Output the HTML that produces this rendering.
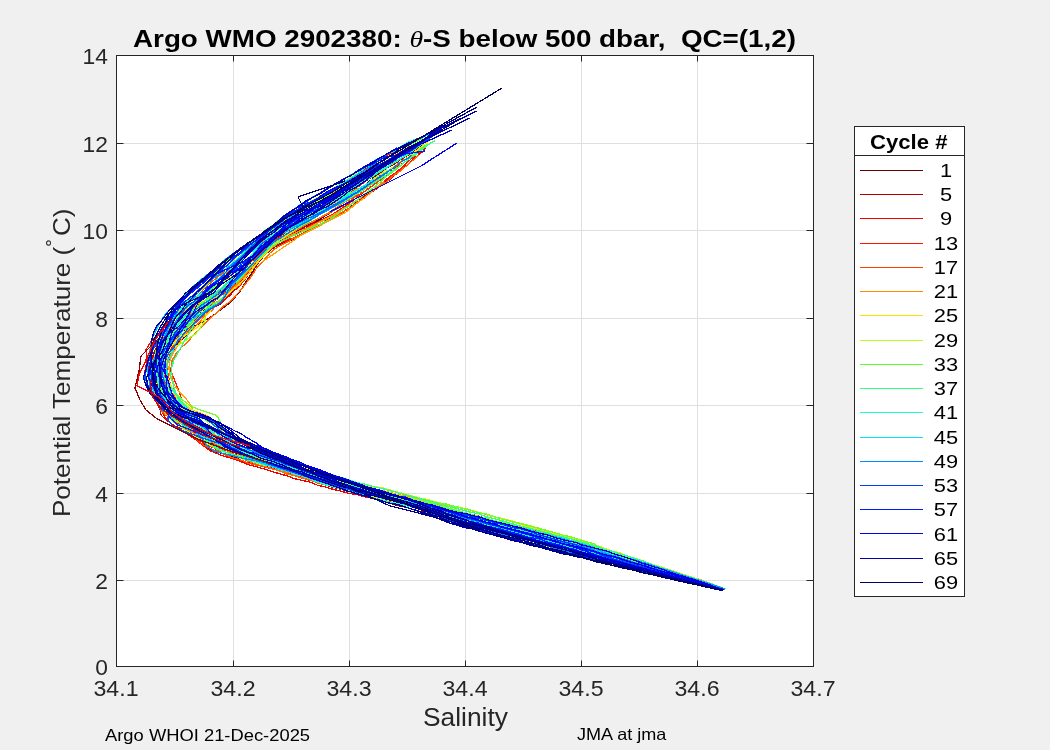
<!DOCTYPE html>
<html><head><meta charset="utf-8"><style>
html,body{margin:0;padding:0;background:#f0f0f0;}
body{width:1050px;height:750px;position:relative;overflow:hidden;font-family:"Liberation Sans",sans-serif;}
svg{position:absolute;left:0;top:0;}
.t{position:absolute;white-space:nowrap;line-height:1;transform-origin:0 0;will-change:transform;}
</style></head><body>
<svg width="1050" height="750" viewBox="0 0 1050 750">
<rect x="116.5" y="55.5" width="697" height="611" fill="#fff"/>
<g stroke="#dfdfdf" stroke-width="1" fill="none">
<line x1="233.5" y1="55.5" x2="233.5" y2="666.5"/>
<line x1="349.5" y1="55.5" x2="349.5" y2="666.5"/>
<line x1="465.5" y1="55.5" x2="465.5" y2="666.5"/>
<line x1="581.5" y1="55.5" x2="581.5" y2="666.5"/>
<line x1="697.5" y1="55.5" x2="697.5" y2="666.5"/>
<line x1="116.5" y1="580.5" x2="813.5" y2="580.5"/>
<line x1="116.5" y1="493.5" x2="813.5" y2="493.5"/>
<line x1="116.5" y1="405.5" x2="813.5" y2="405.5"/>
<line x1="116.5" y1="318.5" x2="813.5" y2="318.5"/>
<line x1="116.5" y1="230.5" x2="813.5" y2="230.5"/>
<line x1="116.5" y1="143.5" x2="813.5" y2="143.5"/>
</g>
<g fill="none" stroke-width="1.3" stroke-linejoin="round" stroke-linecap="round" shape-rendering="crispEdges">
<polyline points="419.2,144.0 415.0,144.8 408.0,150.0 400.0,156.3 393.9,161.0 387.5,166.7 379.7,173.8 372.1,179.2 364.5,185.5 356.6,191.4 350.5,197.7 342.6,203.6 335.3,209.3 327.7,214.4 320.2,219.0 313.1,222.8 305.8,226.2 299.7,229.7 292.6,233.4 286.0,236.7 280.5,239.6 275.2,242.3 269.2,246.9 262.8,253.4 256.6,261.0 249.8,269.1 244.3,277.4 238.8,284.1 233.7,289.9 228.9,295.4 225.2,298.9 222.2,302.9 216.1,306.3 210.4,309.2 204.6,313.3 198.2,317.9 190.6,323.5 185.6,329.8 182.3,335.0 178.8,340.3 175.9,346.0 170.6,352.1 164.3,359.6 161.5,368.3 161.3,376.8 162.4,384.4 165.8,392.5 169.7,400.8 174.2,408.1 180.3,412.6 187.3,415.9 196.1,420.7 204.4,426.2 210.0,430.8 215.6,435.8 222.0,440.6 227.4,444.6 233.0,447.4 241.2,451.3 247.2,453.6 253.8,456.6 261.1,459.4 269.7,461.8 280.0,465.6 286.3,467.3 293.6,470.1 300.9,471.8 308.9,474.9 316.9,477.4 324.7,480.1 333.5,482.8 341.5,485.3 348.7,487.5 356.8,489.4 365.9,492.0 373.3,493.9 381.9,495.5 390.1,497.7 398.3,499.1 405.4,501.3 412.4,503.6 421.1,504.9 427.3,506.5 433.3,507.8 439.8,509.1 447.1,511.1 456.0,512.4 466.0,514.9 472.0,516.7 478.6,517.7 485.9,519.9 494.9,522.1 503.0,523.4 511.7,525.3 520.2,528.2 529.6,530.0 538.3,532.5 547.4,534.0 555.0,536.0 563.1,538.5 569.6,540.5 575.8,541.0 580.4,542.6 593.9,546.3 596.9,548.2 607.0,551.7 613.0,553.3 619.0,555.4 626.8,558.2 634.8,559.9 643.6,563.2 652.4,566.1 661.4,569.1 669.9,571.5 678.3,574.1 686.0,576.7 692.5,579.0 698.1,580.7 712.6,585.3 719.7,587.9 723.9,589.4" stroke="#660000"/>
<polyline points="355.7,202.8 349.7,207.9 342.4,212.2 335.3,216.8 327.3,220.6 320.0,224.9 312.9,228.6 306.2,232.6 300.2,235.7 292.5,239.5 286.2,241.9 281.1,243.5 275.2,246.5 269.8,250.5 263.3,256.4 256.9,264.9 250.9,274.5 245.2,282.7 240.5,290.5 235.3,297.0 231.6,300.6 228.3,304.0 225.2,306.3 220.6,309.7 216.3,313.2 211.8,316.4 203.9,321.0 194.9,326.0 190.3,331.7 185.1,336.4 180.0,341.2 176.7,345.6 170.7,352.6 165.3,359.7 162.0,367.7 161.4,376.9 161.6,384.9 162.8,393.2 164.4,401.4 166.2,408.9 171.2,413.8 177.4,417.6 186.5,422.3 192.2,429.9 196.4,434.9 201.2,440.3 206.3,446.0 212.2,450.8 222.5,453.6 233.9,457.5 242.7,458.7 251.1,460.8 260.1,462.2 269.0,464.1 279.9,467.5 287.0,469.0 293.6,472.1 301.9,474.3 309.3,477.6 317.2,480.4 325.4,483.5 333.1,486.4 341.7,489.3 349.2,491.7 357.4,494.8 365.6,496.7 374.2,498.9 381.6,500.9 389.9,503.1 397.8,505.6 405.8,507.3 412.9,509.3 420.9,511.6 427.0,512.9 433.7,514.5 439.6,516.7 446.7,518.4 455.3,520.4 466.4,523.2 472.1,524.7 479.0,526.3 486.6,527.8 494.6,529.4 502.7,531.4 511.5,533.2 520.5,535.8 529.8,537.5 538.5,539.8 547.8,541.2 555.2,543.2 563.1,545.3 569.8,547.1 576.0,547.6 580.7,549.7 593.5,553.1 597.2,553.3 606.9,556.7 613.0,558.3 619.4,559.6 626.7,562.0 634.8,564.5 643.6,566.8 653.0,569.4 661.9,571.9 670.1,574.3 678.3,577.2 685.9,578.7 692.8,580.8 697.9,582.5 711.9,586.8 718.9,588.6 722.7,589.9" stroke="#780000"/>
<polyline points="423.0,141.1 422.0,141.5 415.3,146.4 407.7,150.7 400.2,155.7 393.4,160.4 387.2,164.4 379.5,169.2 372.7,173.8 364.7,179.3 356.9,183.8 350.3,188.3 342.7,192.5 335.3,197.1 327.5,202.1 320.0,206.9 313.2,211.3 306.5,215.5 299.4,220.0 292.7,224.9 285.7,230.0 279.9,233.8 274.2,239.2 268.2,242.9 262.1,249.8 255.2,256.9 249.2,264.1 243.2,270.8 238.0,276.2 231.5,282.3 225.5,286.2 219.7,290.9 214.6,294.8 207.5,299.1 200.6,302.9 193.9,307.4 186.7,312.5 179.0,318.4 172.7,324.1 166.8,330.0 161.7,335.1 157.0,340.7 151.1,350.7 150.7,359.9 152.7,368.3 155.8,377.0 157.8,385.4 159.1,393.1 161.0,401.0 163.4,409.5 169.2,414.2 175.5,418.3 185.1,422.3 194.4,428.8 201.0,433.5 206.8,439.0 213.2,443.5 220.5,447.3 228.6,449.7 238.2,453.1 245.9,454.9 252.7,456.7 261.2,458.6 269.9,461.3 280.0,464.1 286.3,466.6 293.3,468.5 300.1,471.3 308.6,474.0 317.0,476.4 325.0,478.9 334.0,482.3 341.6,484.9 349.4,487.1 357.6,490.0 365.1,491.5 373.6,493.6 381.2,495.3 390.2,497.3 398.0,499.4 405.5,501.1 412.8,503.0 420.7,504.9 427.2,507.0 433.2,509.2 439.4,510.3 446.6,512.5 455.1,514.9 466.0,516.8 471.8,518.3 479.1,520.3 486.5,521.7 494.5,523.1 503.4,526.1 511.8,528.2 520.4,530.7 529.6,532.2 539.1,534.2 547.2,536.4 555.0,538.6 562.6,541.0 570.1,542.1 576.6,543.8 581.0,545.2 593.6,549.3 596.6,549.9 607.4,553.4 612.5,555.0 619.1,557.4 626.1,559.7 634.8,562.5 644.1,565.0 652.7,567.8 661.7,570.0 669.8,572.8 678.1,575.4 685.9,577.6 692.6,580.0 698.0,581.5 712.3,585.9 719.3,588.2 723.4,589.6" stroke="#8b0000"/>
<polyline points="423.8,144.0 422.0,144.9 415.6,150.0 408.1,155.0 399.6,160.3 394.0,164.2 386.3,168.3 379.5,173.2 372.5,177.0 364.4,181.6 357.3,185.6 350.3,189.8 342.8,193.7 335.3,197.6 327.7,201.9 320.3,206.2 312.6,210.1 305.9,213.9 300.0,218.8 292.5,223.6 285.2,227.8 279.4,232.0 274.3,236.2 268.3,241.1 261.7,247.0 255.2,253.2 248.1,259.3 242.4,265.7 236.0,270.4 229.8,276.3 223.0,280.7 216.3,285.4 209.7,290.0 203.5,296.7 198.0,301.2 193.8,307.3 188.1,313.2 182.4,319.7 175.7,325.4 170.2,331.1 164.9,337.1 160.6,342.1 154.8,351.0 151.5,359.7 151.2,368.5 152.6,376.4 154.7,385.6 157.0,393.2 161.0,401.5 166.2,408.8 171.9,412.9 179.9,417.4 189.8,422.1 197.3,428.0 201.8,432.9 205.5,439.0 211.6,444.2 217.1,448.2 225.1,452.2 235.3,456.2 242.0,458.7 250.7,461.0 259.1,462.9 269.3,465.9 279.9,469.4 286.9,471.3 293.7,473.9 301.0,475.9 309.3,478.1 317.0,481.4 325.4,483.4 334.0,486.3 341.4,489.2 348.5,490.8 357.0,493.6 365.3,496.0 373.9,497.3 382.2,499.1 389.7,500.8 397.8,502.6 405.5,504.5 412.9,506.5 421.0,509.2 427.6,510.4 433.0,512.5 439.9,514.3 446.5,516.0 455.2,518.3 466.3,520.6 471.9,522.5 479.0,523.8 486.6,525.5 494.9,527.1 502.9,529.3 510.9,531.1 520.6,533.4 529.8,535.2 538.1,537.5 546.9,539.8 555.2,541.6 562.9,543.7 569.8,545.7 576.2,547.2 581.5,548.5 593.6,553.0 596.5,554.5 607.1,557.9 612.6,559.6 619.5,561.4 626.2,563.5 635.2,566.1 643.8,568.3 652.4,571.0 661.4,572.9 669.7,575.8 678.4,577.3 686.1,579.9 692.3,581.7 698.0,583.1 712.2,586.9 718.8,588.8 722.6,589.9" stroke="#9d0000"/>
<polyline points="411.7,161.0 408.4,164.0 399.6,170.5 393.6,175.0 387.0,179.8 379.8,185.0 372.3,190.2 364.9,195.6 357.1,200.6 349.9,205.4 342.4,209.6 335.0,213.4 327.3,217.3 320.1,220.8 312.9,223.1 305.9,226.6 300.3,228.6 292.5,231.5 286.4,234.1 280.3,236.1 274.3,238.9 268.7,242.3 261.8,246.7 254.9,253.6 248.9,262.0 243.6,269.2 237.6,276.1 231.2,282.5 226.1,288.8 221.3,293.8 218.3,298.4 211.9,302.8 207.0,307.1 201.5,311.4 193.8,316.0 187.2,321.8 180.5,327.3 175.1,333.0 168.7,338.0 164.2,343.0 158.1,351.4 155.3,359.8 154.2,368.6 154.7,377.2 158.7,385.2 164.9,393.4 171.6,400.7 178.1,408.2 178.6,412.7 179.2,417.5 182.4,423.3 190.1,430.0 196.5,434.7 202.6,440.0 209.6,444.8 216.4,449.4 225.6,451.9 236.0,455.3 244.0,457.1 251.6,458.9 260.8,461.2 269.4,463.5 280.3,466.4 286.5,468.3 293.5,470.8 301.6,473.3 308.9,475.6 317.1,478.4 325.1,481.5 333.5,484.3 341.5,486.3 349.2,488.9 357.7,490.8 365.5,493.4 374.3,495.6 381.6,497.2 390.2,498.9 397.7,501.3 405.4,503.4 413.2,505.3 420.2,507.7 427.4,509.0 433.1,510.7 439.9,512.8 446.8,515.2 455.6,517.4 465.9,520.2 472.3,521.4 478.9,522.8 486.8,524.9 494.8,527.3 503.2,529.4 511.6,531.4 520.5,533.4 529.4,536.3 538.5,538.1 546.8,540.5 555.1,542.0 562.6,543.6 569.1,545.8 575.5,547.3 581.6,548.6 594.4,552.7 596.5,554.2 607.3,557.6 612.3,558.7 619.4,561.4 627.2,563.0 634.9,565.4 643.9,567.8 652.7,570.1 660.9,572.3 670.2,574.6 678.8,577.0 686.0,579.4 692.7,580.8 698.0,582.8 712.2,586.6 718.9,588.5 723.2,589.7" stroke="#b00000"/>
<polyline points="419.8,143.0 415.4,145.7 407.8,150.2 400.3,154.9 394.0,158.8 386.8,164.0 379.7,168.2 372.3,173.0 364.5,177.6 357.3,182.6 350.1,187.0 342.8,192.0 335.0,196.6 327.4,200.4 320.0,205.2 312.5,210.2 306.1,215.2 300.4,220.0 292.3,225.6 286.1,230.9 280.3,235.8 275.1,240.2 269.1,246.1 262.8,253.0 256.5,260.6 250.1,267.7 244.1,274.7 238.0,281.1 232.5,285.9 227.0,290.7 222.5,294.4 217.0,297.6 210.1,301.7 203.8,305.4 197.3,309.6 189.7,314.3 182.1,319.7 176.1,325.3 169.7,330.9 164.7,336.2 160.2,341.9 154.4,351.0 152.2,359.7 152.7,369.3 154.1,377.5 156.0,386.2 158.1,393.5 160.6,401.8 164.2,409.0 169.1,414.2 175.1,418.3 184.6,423.5 196.3,428.0 204.9,432.9 213.1,436.4 221.9,441.1 229.0,444.1 234.4,447.0 241.1,451.3 247.1,454.2 253.6,457.0 260.8,459.0 269.6,462.2 280.0,465.9 286.7,468.5 294.0,470.2 300.7,472.5 309.0,475.0 317.2,477.8 325.4,479.9 333.7,482.3 340.7,484.8 349.3,487.0 356.8,489.0 365.9,491.2 373.7,492.7 381.9,494.8 390.4,496.9 398.0,498.1 405.5,500.8 413.4,503.0 420.3,505.7 427.0,506.7 433.1,508.3 439.4,510.4 446.5,512.5 455.1,515.4 465.7,517.8 472.1,519.7 479.0,521.3 486.3,523.3 494.1,525.5 502.9,527.9 511.4,530.3 520.9,532.5 529.4,534.5 538.6,536.6 547.3,538.3 554.5,540.9 562.3,542.8 569.4,544.0 575.8,545.9 581.2,546.8 593.7,550.5 596.5,551.0 606.7,555.2 612.9,556.0 619.0,558.0 626.3,560.0 635.1,562.5 643.3,564.9 652.4,567.8 661.6,570.2 670.5,572.6 678.5,575.2 685.8,577.2 692.6,579.5 697.8,580.9 712.6,585.3 719.8,587.8 724.4,589.2" stroke="#c10000"/>
<polyline points="384.1,172.7 379.7,175.8 372.6,180.9 365.0,185.6 357.4,190.6 350.4,195.5 343.1,199.8 334.9,204.6 327.6,208.3 320.1,212.7 313.4,217.1 306.4,221.2 300.4,225.0 292.7,229.5 285.8,233.3 280.0,236.6 274.7,240.5 268.8,246.1 262.5,252.3 255.9,259.7 249.2,267.6 243.8,276.3 239.3,282.1 233.1,288.9 229.2,294.4 224.8,298.5 221.4,301.8 215.5,305.7 209.8,308.3 203.7,312.0 196.4,317.1 189.0,323.1 179.8,327.8 172.5,332.2 165.4,336.6 158.7,341.8 151.9,350.6 148.8,360.2 149.1,369.1 150.4,377.6 151.6,385.4 153.9,393.9 156.3,402.0 160.0,409.6 161.0,415.1 165.4,419.3 174.3,425.8 187.7,430.7 197.4,434.9 206.9,439.1 217.1,442.5 226.4,445.0 230.4,449.4 236.6,454.2 243.6,457.3 251.1,460.3 259.4,463.8 269.1,466.7 279.8,471.0 287.2,473.3 294.1,475.5 301.1,477.3 309.4,480.2 317.8,482.3 325.1,484.7 333.1,487.5 341.3,489.3 349.5,491.4 356.9,493.5 365.4,494.8 373.6,496.6 382.1,498.4 389.9,500.7 397.8,501.9 405.6,503.8 413.0,506.0 420.8,508.3 426.8,510.4 432.6,512.6 439.7,515.5 446.7,517.7 454.7,520.3 466.1,523.4 471.9,524.8 478.9,526.3 486.4,528.8 494.1,530.4 503.1,533.1 511.5,534.5 520.1,537.2 529.5,539.4 538.4,540.8 547.2,543.5 554.7,544.8 562.4,546.5 570.1,548.5 575.4,550.2 581.1,550.8 593.6,553.4 596.7,554.8 606.7,556.3 612.7,558.0 618.9,560.4 626.6,561.5 634.9,564.2 643.8,566.8 652.6,569.1 661.7,571.7 670.0,574.4 678.6,576.5 685.8,578.7 692.4,580.6 698.1,582.3 711.9,586.6 719.1,588.5 723.0,589.8" stroke="#d10000"/>
<polyline points="426.0,145.0 424.2,150.4 422.6,151.7 415.7,157.0 408.6,163.8 400.1,170.7 393.6,176.2 387.2,181.7 379.3,186.8 371.6,192.2 364.5,197.3 357.5,202.7 350.3,207.2 342.4,212.1 334.4,216.0 327.5,220.0 320.1,224.3 313.0,228.2 306.5,231.5 300.3,234.9 293.1,238.8 286.0,241.2 280.8,243.1 275.4,246.1 269.5,250.1 262.9,255.5 256.9,263.8 250.5,271.6 244.7,279.6 239.0,286.6 233.8,291.1 229.4,295.9 225.5,299.0 221.6,302.7 216.1,306.1 211.2,309.8 205.6,314.5 199.0,319.0 191.7,323.4 187.5,329.6 182.8,335.7 179.5,341.0 177.1,345.8 172.4,352.4 164.9,360.2 161.9,368.6 159.1,377.1 159.8,385.2 162.0,393.5 163.7,401.6 167.0,409.2 170.6,413.3 175.0,418.5 183.0,423.6 195.5,428.9 204.9,432.2 214.3,436.8 223.0,440.3 231.5,442.4 235.5,446.3 241.6,450.2 246.9,453.3 253.3,456.6 261.0,460.3 269.1,463.3 279.9,467.0 286.3,469.3 293.8,471.7 301.5,473.8 309.4,476.5 317.5,479.1 325.5,481.6 333.3,483.1 341.0,486.2 349.0,488.0 357.7,490.5 366.1,492.0 373.7,494.4 382.3,496.5 390.2,498.3 398.3,499.7 406.0,501.7 413.2,503.3 420.4,505.4 427.3,507.2 432.7,509.2 440.3,511.1 446.4,512.9 455.4,515.6 466.1,518.6 472.3,519.3 479.3,521.1 486.8,523.3 494.0,524.6 503.0,527.4 512.2,529.7 521.2,532.0 529.7,533.7 538.9,536.5 547.3,538.1 555.4,539.8 562.9,542.2 569.7,543.1 576.4,545.2 580.7,546.7 593.6,550.1 597.0,552.0 607.0,555.0 612.6,557.1 619.5,558.9 626.2,561.3 635.0,564.0 643.8,566.1 652.6,568.7 661.6,572.1 669.9,573.7 678.1,576.4 685.9,578.6 692.2,580.6 698.1,582.3 712.2,586.2 719.1,588.5 723.0,589.7" stroke="#e20000"/>
<polyline points="360.6,179.6 356.9,181.1 349.9,185.2 342.8,188.4 335.5,192.1 327.7,196.2 319.3,201.3 312.9,207.5 306.1,213.1 299.9,218.2 292.6,226.3 285.8,231.0 280.4,236.3 275.1,242.0 269.8,248.1 263.4,256.2 256.9,263.4 250.0,270.7 244.0,277.6 238.5,283.0 232.6,287.1 226.9,290.5 222.0,293.2 216.0,296.7 209.5,300.7 202.6,304.9 197.3,309.4 189.5,313.7 182.0,319.4 174.8,325.7 168.8,330.3 162.8,336.4 157.9,341.6 151.2,350.4 147.0,360.1 145.4,369.5 143.5,377.8 146.1,385.8 151.0,393.8 156.3,402.4 162.1,409.0 163.6,415.2 166.4,419.4 172.9,425.5 184.1,432.1 190.8,436.5 199.7,440.6 207.7,445.3 216.0,448.8 223.0,453.7 232.8,458.8 239.7,461.1 248.1,464.6 258.1,467.2 268.6,470.3 279.8,473.9 286.8,475.7 294.2,478.6 301.2,480.2 309.6,481.9 317.7,485.3 325.2,486.9 333.2,489.4 341.6,491.3 348.9,493.4 357.6,494.8 365.1,496.8 374.1,498.5 382.5,500.1 389.9,501.8 397.5,503.1 405.4,504.9 413.5,507.2 420.7,508.7 427.5,511.0 433.2,512.0 439.6,514.1 446.5,516.0 455.6,518.1 466.0,520.5 471.8,521.7 479.1,523.6 486.3,525.2 494.7,527.3 503.1,529.1 512.0,530.9 520.3,533.8 529.8,535.6 538.1,537.6 547.4,540.4 555.2,542.5 562.8,543.9 569.3,545.7 575.6,548.2 580.9,549.9 594.2,554.2 596.5,555.9 607.2,559.4 612.8,561.7 619.3,562.9 626.8,565.2 635.4,567.4 643.6,569.8 652.5,572.2 661.6,574.7 669.9,576.5 678.5,578.5 685.7,580.3 692.6,582.0 697.7,583.4 712.0,587.2 718.6,588.9 722.6,589.9" stroke="#f20000"/>
<polyline points="364.2,194.7 357.5,200.0 350.2,205.0 341.9,209.3 335.3,213.6 327.6,217.4 320.2,221.7 312.9,225.3 306.6,228.4 299.9,231.5 293.1,235.4 286.4,238.0 280.8,240.4 274.9,244.2 269.4,248.3 262.9,254.3 256.9,261.5 250.2,269.0 243.7,275.4 238.4,282.6 232.5,287.2 227.4,291.6 222.2,294.3 217.0,298.8 212.7,302.7 208.1,307.5 203.5,312.3 197.2,318.2 190.6,323.6 183.6,328.6 177.1,333.9 171.7,338.6 166.0,343.7 159.3,351.5 153.3,360.2 150.7,369.1 149.5,377.3 151.4,385.5 154.9,393.6 159.3,401.9 164.5,409.1 166.8,414.3 171.0,418.4 178.5,424.2 186.8,431.0 191.7,436.3 197.1,440.9 204.1,446.4 210.9,451.1 220.8,455.0 232.6,458.8 240.2,461.2 249.4,462.9 258.4,465.3 269.0,468.1 280.1,471.0 287.1,472.5 294.1,473.9 301.2,476.3 309.2,478.3 317.4,480.2 325.8,482.9 333.7,484.4 341.1,486.4 348.7,488.8 357.4,490.9 365.4,492.6 373.6,494.1 382.3,495.2 389.9,497.3 398.1,498.3 405.1,500.2 413.1,503.0 420.7,505.4 427.3,507.3 433.6,508.8 439.1,511.2 446.7,513.3 455.8,517.1 466.5,519.3 472.2,521.6 479.3,523.5 486.5,525.2 494.8,528.3 503.1,529.5 511.6,532.1 520.8,534.8 529.8,537.4 538.5,539.8 546.6,542.0 555.0,543.4 563.0,545.8 570.0,547.8 575.7,549.2 580.6,550.3 593.8,553.9 596.4,555.6 606.5,558.5 613.0,560.7 619.3,562.0 627.2,564.2 635.0,566.5 643.4,568.1 652.1,570.4 661.2,572.9 670.3,575.1 678.2,577.4 685.7,579.5 692.6,581.2 698.1,582.5 712.3,586.3 719.4,588.2 723.8,589.4" stroke="#f50500"/>
<polyline points="436.2,130.0 429.8,133.2 422.4,137.1 415.9,139.1 408.5,142.8 399.7,147.9 393.7,151.8 386.7,155.3 380.0,159.4 372.2,163.6 365.0,169.2 357.7,173.4 349.7,178.4 342.6,182.4 335.8,187.2 328.0,192.2 320.3,196.3 312.8,200.4 306.3,204.8 300.1,208.3 292.0,214.4 284.9,219.6 279.4,223.6 272.4,229.4 266.8,233.6 259.9,238.7 253.9,244.2 248.0,250.4 241.3,256.9 235.8,263.1 228.3,271.0 221.3,277.5 215.3,284.3 209.4,289.6 203.1,295.9 197.6,300.8 191.5,306.0 187.1,312.5 180.8,319.1 172.4,324.0 165.4,329.7 157.8,334.7 151.7,340.5 145.8,349.9 147.4,359.8 151.0,369.0 156.9,376.7 159.0,385.0 160.6,393.4 161.4,401.0 165.5,409.1 172.4,413.2 180.5,416.4 191.6,421.7 200.9,427.3 206.7,431.9 213.8,436.7 220.4,441.3 227.2,444.1 232.8,448.0 241.3,451.7 247.2,453.3 253.9,455.6 261.4,458.0 269.5,461.4 279.7,464.5 286.7,466.3 293.8,468.3 300.7,471.3 309.2,473.7 316.7,476.8 325.5,479.0 333.7,482.6 341.6,484.8 349.4,486.6 357.5,489.0 365.7,491.5 373.8,493.2 381.7,495.1 389.7,497.4 398.2,499.7 405.7,501.2 412.7,503.3 420.9,504.9 426.8,507.2 433.1,509.0 439.6,510.1 446.5,511.9 455.2,514.5 465.9,516.7 472.4,518.3 479.4,520.0 486.3,522.0 494.5,523.8 503.2,526.2 512.3,527.9 520.8,529.8 529.4,532.2 538.5,534.1 547.1,536.5 555.4,538.4 563.0,540.7 569.4,542.6 575.7,543.7 580.6,545.8 593.8,550.1 597.3,551.5 606.9,554.9 612.6,556.8 618.8,559.1 626.9,561.5 634.5,564.2 643.9,566.2 652.8,568.5 661.5,571.3 670.1,573.8 678.2,575.9 685.9,577.8 692.3,579.7 698.2,581.5 712.3,585.6 719.6,588.0 724.2,589.3" stroke="#f90a00"/>
<polyline points="408.0,146.5 401.6,163.0 399.8,163.6 393.9,169.5 386.9,174.8 379.9,179.9 372.0,186.1 364.4,191.5 356.9,197.6 349.7,202.9 342.8,207.8 335.0,212.8 327.1,217.7 319.5,221.5 312.8,224.5 306.3,227.9 299.9,230.8 292.0,234.4 286.1,237.1 280.5,239.8 274.7,242.5 269.1,246.9 262.4,252.7 255.8,259.4 249.8,266.9 243.7,273.9 237.9,279.7 232.2,285.4 226.7,289.4 222.1,293.4 217.1,298.0 212.9,302.9 208.3,307.9 204.1,312.5 199.1,318.4 193.5,324.8 187.1,329.8 180.9,334.8 175.1,339.1 170.1,344.5 163.4,352.2 158.2,360.3 155.6,368.7 154.5,377.3 154.5,385.7 156.7,393.1 157.8,402.0 161.6,409.3 169.5,413.7 179.4,416.7 192.7,421.5 200.8,426.7 206.1,431.6 212.2,436.7 218.0,441.8 223.2,445.9 231.3,449.4 239.4,452.4 246.2,455.0 253.2,457.3 261.0,459.3 269.9,461.8 280.1,465.0 287.1,466.5 294.0,469.6 301.1,472.2 309.3,474.2 316.7,477.8 325.6,479.9 334.3,482.2 341.3,485.1 349.1,486.9 357.2,489.4 365.3,491.9 373.6,493.3 381.9,495.1 390.6,497.2 398.2,499.0 406.5,501.3 413.3,502.8 420.8,504.5 427.1,506.7 432.9,507.9 440.0,510.0 446.7,511.8 455.4,514.1 465.9,515.8 471.9,518.2 478.6,519.3 486.6,520.9 494.7,523.0 503.2,525.1 512.2,527.2 520.1,530.2 530.1,531.7 538.4,533.6 547.6,535.5 555.4,538.0 562.5,540.1 569.3,541.4 575.8,542.7 580.5,543.8 594.1,546.5 596.9,548.0 607.3,550.3 612.9,552.0 619.4,553.8 626.5,556.1 635.3,559.5 643.2,561.9 652.6,565.2 661.3,568.1 670.1,570.8 677.9,573.4 685.9,576.2 692.6,578.4 698.0,580.1 712.7,585.0 719.8,587.8 724.1,589.3" stroke="#fc0f00"/>
<polyline points="428.1,144.2 422.6,149.5 415.7,154.9 408.4,161.4 400.0,169.1 393.7,174.0 386.4,179.1 379.1,185.5 371.9,191.3 365.2,196.8 357.2,202.2 350.2,207.4 343.0,212.1 335.5,215.9 327.2,220.8 320.1,224.5 312.6,228.2 305.7,232.1 299.7,235.1 292.3,238.3 286.5,239.9 280.6,241.6 275.4,245.0 269.8,248.6 262.5,253.8 256.4,260.6 249.4,268.3 243.6,274.1 238.8,279.0 232.1,284.4 226.0,287.9 220.0,291.6 214.4,295.7 209.4,299.8 203.9,305.0 198.7,310.0 193.0,315.9 187.2,322.4 183.3,328.6 179.5,334.1 176.1,340.1 172.8,345.1 169.5,352.4 169.1,360.0 169.7,367.9 173.3,376.9 176.2,384.0 179.3,392.1 181.9,400.0 185.2,407.1 188.0,411.0 189.4,415.4 194.6,420.6 200.7,427.3 206.0,431.4 212.4,437.1 218.3,441.8 223.7,445.3 232.3,449.2 241.2,452.1 247.1,453.5 253.4,455.3 261.9,457.5 270.9,459.7 280.1,462.8 286.2,464.5 293.2,466.4 301.0,469.2 308.4,471.3 316.9,474.1 325.1,476.7 333.6,479.7 341.1,482.2 349.2,483.8 357.5,485.9 365.7,488.1 374.2,490.0 382.0,492.3 390.3,493.5 398.4,495.7 405.4,497.7 412.5,499.0 420.4,501.1 427.6,503.2 433.2,504.8 439.8,506.6 446.5,508.6 455.6,511.1 466.1,513.3 471.9,514.5 478.9,516.2 486.4,519.0 494.9,521.2 502.6,523.2 511.9,525.3 521.0,527.7 529.7,529.7 539.1,532.1 547.3,534.2 554.9,536.6 562.6,538.7 569.7,540.4 576.2,541.4 581.2,542.5 593.7,546.6 596.4,548.0 606.9,551.1 613.0,553.1 619.1,555.1 626.9,557.7 634.8,560.8 643.9,563.0 652.0,565.8 661.3,568.5 669.8,571.6 678.5,573.9 685.5,576.1 692.4,578.3 698.0,580.4 712.7,585.1 719.9,587.7 724.3,589.3" stroke="#ff1400"/>
<polyline points="418.5,144.1 416.1,145.3 408.4,149.1 400.2,155.2 393.9,159.5 386.8,164.3 379.2,170.1 371.9,175.9 364.8,181.9 357.4,187.3 350.1,193.0 342.6,198.7 335.5,203.1 327.0,208.2 320.1,212.5 313.1,216.6 305.9,219.5 300.2,223.1 292.1,227.2 285.8,230.1 280.1,233.9 274.3,237.5 268.1,241.9 261.5,247.0 255.4,254.0 249.3,261.2 242.9,269.2 237.6,275.7 231.8,283.2 226.1,289.5 221.8,294.5 217.6,298.7 211.8,303.0 206.3,306.2 200.3,310.7 193.8,316.0 186.7,321.9 182.4,327.5 178.2,333.8 174.4,339.1 170.8,344.8 166.8,352.1 163.7,360.3 163.4,368.7 164.2,376.1 166.8,384.8 169.7,392.4 173.3,400.3 177.9,407.8 183.2,412.1 188.8,415.2 196.6,420.5 201.8,426.8 205.2,432.4 209.5,438.1 214.3,443.9 219.3,447.8 227.8,451.1 239.0,452.7 245.9,455.1 253.2,456.6 261.1,458.6 270.2,460.2 280.0,462.8 286.5,464.5 293.5,467.0 300.5,470.0 308.7,472.4 316.9,474.6 325.3,477.5 333.6,480.7 341.7,482.7 348.7,485.6 357.3,487.6 365.1,489.4 373.8,491.4 382.1,493.6 390.0,495.3 398.1,497.9 405.6,499.2 412.5,500.9 420.5,502.9 427.0,505.2 433.0,505.8 439.9,508.0 447.2,509.7 455.3,511.8 466.2,514.8 471.7,515.5 478.8,517.0 487.3,519.3 494.8,521.5 502.8,523.4 512.1,525.3 521.3,527.9 530.1,530.0 538.2,531.6 547.2,534.3 555.3,535.7 563.4,537.8 569.4,540.0 575.6,541.6 581.2,542.2 593.3,545.8 597.0,546.4 607.2,549.9 612.4,551.8 619.2,553.9 625.8,555.7 635.1,559.0 644.0,561.8 652.7,564.6 661.2,567.3 670.1,570.2 678.1,573.3 685.7,575.5 692.3,577.7 698.0,579.3 712.9,584.5 720.3,587.3 724.9,589.0" stroke="#ff1f00"/>
<polyline points="407.0,148.3 399.3,152.8 392.9,157.0 386.3,161.5 379.5,166.4 372.3,171.6 365.1,176.4 357.2,181.7 349.6,186.7 343.0,191.6 335.4,196.3 327.5,200.8 320.1,205.8 313.0,210.8 306.2,215.6 300.1,219.5 292.3,225.6 285.8,230.0 280.0,234.8 274.0,239.7 268.6,244.4 262.8,251.2 255.9,256.9 249.5,263.4 242.8,268.5 237.0,273.9 230.5,277.8 223.2,282.0 217.1,286.6 210.3,291.0 204.1,297.3 200.0,302.1 194.8,308.3 190.3,314.0 184.4,321.3 181.1,327.8 178.2,334.3 175.0,339.6 173.9,345.3 170.3,352.4 167.0,359.6 165.5,368.2 165.1,376.2 166.1,384.9 168.0,392.7 169.3,400.8 172.2,408.1 178.3,412.4 185.4,416.2 194.8,420.9 203.8,426.2 209.9,431.3 216.0,436.2 222.9,440.5 228.8,443.9 234.2,446.7 242.0,450.4 248.2,452.9 254.5,455.0 261.5,457.6 269.8,461.2 280.2,463.9 286.5,465.9 293.4,468.6 300.9,470.6 309.2,473.2 317.3,476.1 325.4,478.0 333.5,480.6 341.5,483.2 349.1,485.3 357.5,487.5 365.9,489.8 373.8,491.4 382.0,493.3 390.2,495.3 397.5,496.8 406.1,498.5 412.9,500.6 420.8,502.1 427.0,504.1 433.8,505.8 440.0,507.2 446.4,509.1 455.2,510.9 465.8,513.8 472.4,515.5 478.9,516.8 486.5,518.9 494.3,520.9 503.3,523.8 511.8,525.4 521.0,527.3 529.8,529.7 538.6,532.2 546.5,534.9 554.6,536.3 562.9,538.7 570.0,540.8 576.0,543.2 581.4,544.4 593.8,548.9 596.7,550.6 607.8,554.4 612.9,556.4 618.7,558.6 626.4,560.8 635.3,562.5 643.7,565.3 652.4,568.0 661.5,570.5 670.2,573.0 678.1,575.8 686.0,577.5 692.8,579.7 698.1,581.0 712.4,585.6 719.9,587.8 724.5,589.2" stroke="#ff2a00"/>
<polyline points="403.7,163.2 400.6,165.6 393.7,170.7 386.7,174.6 379.5,180.6 372.6,185.8 365.1,191.3 356.6,195.8 350.2,200.8 342.5,205.9 335.0,209.7 327.7,214.1 319.5,217.7 313.1,221.7 306.0,224.6 300.4,227.9 292.4,231.1 286.9,234.8 280.0,237.5 274.7,240.5 269.0,245.1 262.1,250.7 256.3,257.9 249.7,266.6 243.4,274.2 238.6,280.7 232.9,288.0 228.9,293.6 224.9,297.6 220.6,302.1 215.9,305.9 211.0,309.9 206.0,313.0 199.5,319.3 193.8,325.3 187.8,330.8 183.9,335.6 178.7,339.9 174.8,345.5 169.4,352.5 166.7,359.8 167.0,368.7 168.5,376.2 170.4,384.4 173.7,392.6 175.6,400.5 178.8,407.4 182.3,412.3 186.2,416.1 193.7,420.9 201.8,427.2 208.1,431.7 214.6,436.9 220.9,440.7 226.9,444.5 233.8,447.6 241.2,450.6 247.4,453.1 254.2,456.0 262.1,457.9 270.8,461.3 280.4,464.1 286.0,466.5 293.7,467.6 300.9,470.0 309.0,471.8 316.8,474.6 324.8,477.0 333.3,479.2 341.6,480.6 348.9,483.3 358.1,485.7 365.3,487.7 374.0,489.8 382.1,491.7 389.9,492.8 398.1,494.7 405.1,496.5 413.3,498.4 421.4,500.9 427.6,503.2 433.6,505.9 439.5,508.0 446.8,510.3 455.3,513.2 466.0,517.0 472.3,518.5 478.2,520.8 486.7,523.0 494.6,525.2 502.9,527.9 512.1,530.3 520.8,533.4 529.5,535.9 538.4,537.6 547.1,539.4 555.0,541.7 562.8,543.5 569.7,544.7 575.7,546.4 580.9,547.1 594.1,549.9 596.6,550.3 606.2,552.7 613.3,554.3 619.3,556.0 627.1,558.7 634.9,561.3 644.1,563.8 652.5,566.8 661.0,569.2 670.0,572.0 678.2,574.8 685.8,577.1 692.4,579.4 697.7,581.1 712.3,585.9 719.3,588.2 723.4,589.6" stroke="#ff3500"/>
<polyline points="402.9,160.7 400.3,163.2 394.1,167.6 386.5,172.3 379.5,177.1 372.3,182.3 364.8,187.1 357.3,191.6 349.3,196.7 342.8,200.8 335.5,205.4 327.6,208.7 319.9,213.6 312.8,217.7 305.6,222.0 300.0,226.2 292.4,231.4 286.0,234.5 280.7,239.0 275.5,242.9 269.1,248.3 263.0,254.6 256.2,261.6 250.5,268.6 243.8,276.3 238.9,281.7 232.4,286.9 227.3,291.4 222.5,294.5 217.2,298.0 209.7,301.3 202.1,303.6 194.2,307.3 185.7,312.0 176.3,317.2 171.7,323.9 168.0,330.2 164.7,336.3 162.0,342.6 159.2,351.8 158.7,360.1 160.1,368.5 163.6,376.5 165.8,384.9 170.2,393.1 173.0,400.6 177.0,408.0 176.7,412.9 178.1,417.6 181.8,423.5 188.4,430.9 193.3,435.9 198.8,441.8 205.2,445.9 213.7,450.0 222.8,453.5 235.3,455.6 243.7,457.8 251.8,458.8 260.9,460.4 269.5,462.1 280.0,464.3 286.4,466.1 293.1,468.4 301.1,471.9 308.4,474.8 316.9,477.7 325.3,481.0 333.2,483.9 341.3,486.7 349.1,489.3 357.7,492.6 365.9,494.6 373.3,497.2 381.7,499.1 390.2,501.3 398.2,503.5 405.3,505.2 412.4,507.1 420.7,508.9 427.3,509.8 433.3,511.5 439.9,514.0 446.6,515.9 455.2,517.2 465.6,519.4 472.0,521.3 479.0,521.9 486.7,523.6 494.5,526.0 503.1,527.3 512.5,529.7 520.6,531.8 529.5,534.0 538.5,535.8 546.7,537.9 555.4,539.7 562.4,541.6 569.6,544.0 576.1,545.8 580.7,546.9 594.1,550.5 596.5,551.8 607.2,555.4 612.0,557.0 619.9,558.6 627.0,561.2 635.0,563.4 643.3,566.4 652.6,568.7 661.1,570.9 670.0,574.0 678.2,576.2 686.0,578.0 692.3,580.0 698.2,581.7 712.3,585.9 719.3,588.2 723.6,589.5" stroke="#ff4000"/>
<polyline points="357.9,185.0 357.8,186.1 349.8,190.6 343.0,195.5 334.9,200.3 327.7,205.0 320.3,209.0 313.0,212.2 306.0,215.8 299.8,219.4 292.0,223.7 285.7,227.2 279.9,229.9 273.5,234.3 267.5,238.0 260.7,243.3 254.2,248.7 248.2,253.4 241.6,258.5 235.7,263.4 228.2,269.8 220.2,275.0 213.0,280.8 206.2,286.2 200.3,293.2 195.5,299.3 191.0,306.3 185.6,312.3 180.2,318.7 174.8,325.3 169.4,330.9 164.4,336.8 161.1,342.4 156.7,351.5 152.8,360.1 151.8,368.9 151.4,377.8 152.7,385.7 155.1,393.9 157.3,402.5 160.4,409.8 164.7,414.2 170.5,418.8 180.5,423.1 190.2,429.7 196.2,434.8 202.2,440.1 209.0,445.0 216.3,449.1 222.9,453.9 233.0,457.9 240.7,460.0 249.0,463.5 258.8,465.6 268.9,467.6 279.8,471.1 286.8,473.3 293.9,475.6 301.4,477.9 309.3,479.9 317.2,482.8 324.8,484.7 334.0,486.9 341.2,488.8 348.5,490.9 357.1,492.1 365.1,494.2 374.1,495.3 382.0,497.4 390.6,499.1 398.3,500.6 406.1,502.9 413.1,503.8 421.0,506.5 427.1,507.9 433.4,510.1 440.2,512.0 446.5,513.7 455.0,516.8 465.5,519.0 472.1,521.3 479.2,522.4 486.7,523.9 494.1,526.0 503.4,528.7 511.5,530.2 520.7,532.8 529.7,535.2 538.0,536.8 547.2,539.4 555.0,541.4 562.9,543.5 569.6,544.5 575.9,546.5 580.7,547.8 593.8,551.1 596.8,552.7 606.9,555.4 612.4,557.0 619.0,559.3 627.1,561.7 635.0,563.8 643.8,566.6 652.3,568.8 661.3,571.7 670.2,574.4 678.4,576.8 685.9,578.9 692.7,580.9 698.2,582.6 712.2,586.6 718.7,588.9 722.4,590.0" stroke="#ff5300"/>
<polyline points="418.2,155.3 415.6,157.9 408.5,164.2 400.0,171.1 393.5,175.6 387.0,181.4 379.4,186.2 371.9,191.8 365.0,197.5 357.1,202.7 350.1,207.6 342.7,211.9 335.6,216.2 327.1,220.5 320.1,224.3 312.5,228.5 306.2,232.1 300.5,235.2 292.3,239.2 287.1,242.4 281.3,244.9 275.7,248.3 269.9,253.1 264.1,260.0 257.0,267.4 251.4,276.4 245.1,284.5 239.9,291.0 235.1,296.1 231.5,299.6 228.3,302.8 224.5,305.5 219.7,309.5 216.6,313.0 211.3,317.1 206.3,322.4 201.0,327.7 195.0,333.1 190.7,338.5 186.5,343.0 181.9,347.0 176.2,353.5 172.1,360.3 171.1,367.8 172.3,375.9 173.2,384.3 174.1,392.6 174.9,399.9 176.8,408.2 176.5,413.0 178.1,417.4 182.3,423.8 192.0,430.2 198.5,434.0 206.4,438.6 214.3,443.8 221.9,446.7 228.2,451.6 235.9,455.3 242.1,458.7 250.4,462.0 259.1,464.6 269.3,467.9 280.3,471.2 286.6,473.9 294.5,475.5 301.9,477.6 309.0,479.6 317.2,481.6 325.1,483.5 333.1,486.4 341.6,487.8 348.9,489.2 357.7,491.4 365.3,493.3 373.5,494.2 381.9,495.8 390.1,498.0 397.5,499.0 406.3,501.2 413.0,502.6 420.1,504.9 427.3,507.0 434.0,508.5 439.5,510.8 446.6,512.5 455.4,515.3 466.0,517.8 472.1,519.9 478.9,521.1 486.4,523.5 494.8,525.0 503.5,528.0 511.7,529.4 520.4,532.1 529.7,534.6 538.5,536.7 547.1,538.7 554.5,540.6 562.6,542.2 569.5,544.0 575.5,545.3 580.8,546.6 593.7,550.8 597.2,551.6 607.2,554.5 612.8,556.2 619.8,558.0 627.2,560.5 634.7,562.4 643.8,565.1 652.6,567.8 661.2,570.3 670.1,572.9 678.4,575.4 685.9,577.7 692.3,579.7 698.0,580.8 712.6,585.7 719.7,587.8 724.0,589.4" stroke="#ff6600"/>
<polyline points="423.1,145.6 422.6,146.6 416.0,151.2 408.2,157.0 399.9,162.2 393.8,167.1 386.6,172.6 379.7,178.3 372.0,183.2 365.1,188.8 357.2,194.0 350.2,198.8 342.6,203.3 335.6,208.2 327.8,213.3 320.5,217.3 313.2,221.2 305.7,224.9 300.2,227.8 292.9,232.5 286.3,236.0 280.6,238.8 275.3,242.2 269.3,247.2 262.9,252.6 256.3,260.8 250.1,268.7 244.6,275.8 238.7,282.5 233.2,289.4 228.5,294.6 224.5,298.1 221.3,301.5 215.6,306.0 212.1,310.6 206.1,314.5 201.6,319.4 195.8,326.2 188.9,331.5 183.2,335.6 177.2,340.3 172.6,344.8 165.7,352.0 164.0,360.2 164.5,367.7 167.0,376.5 169.7,384.7 174.6,392.6 178.4,399.9 182.0,406.9 183.4,411.7 183.5,416.6 187.4,422.3 196.0,429.0 203.4,433.3 210.7,437.9 218.8,442.5 225.6,444.9 230.7,449.1 238.0,453.6 244.6,456.6 251.9,459.3 259.4,462.4 269.5,465.2 279.9,469.9 286.7,472.3 293.2,472.9 301.5,475.6 309.0,477.6 317.0,479.8 325.7,482.2 333.7,484.5 341.2,486.9 349.2,489.4 357.3,490.3 365.7,492.5 374.1,494.2 381.7,495.7 390.2,497.3 398.4,499.4 405.4,500.5 413.2,502.4 420.3,504.1 427.2,505.6 433.5,507.9 439.4,508.7 447.3,510.2 455.8,511.5 465.4,514.1 472.5,515.9 479.1,517.3 486.6,519.1 494.7,520.8 503.2,523.5 511.7,525.6 520.9,527.2 529.5,530.0 538.1,532.2 546.9,534.8 555.6,537.0 562.8,538.7 569.7,540.7 575.8,542.5 581.1,544.9 593.6,548.9 597.1,551.6 606.8,556.1 612.4,558.0 619.6,560.0 626.8,562.5 635.1,564.4 643.6,567.4 652.7,569.5 661.6,572.1 670.1,574.0 678.6,576.8 685.8,578.5 692.8,580.8 697.7,582.1 712.4,586.1 719.4,588.2 723.7,589.5" stroke="#ff7900"/>
<polyline points="383.4,181.8 379.7,184.7 372.3,190.7 364.1,194.8 357.7,200.1 350.5,204.7 342.3,209.1 335.1,214.4 327.8,218.4 319.9,222.1 312.4,225.4 306.4,228.6 299.9,230.9 293.4,234.0 286.0,237.5 281.0,239.3 274.6,242.6 269.1,246.8 262.8,253.0 255.8,259.8 249.7,267.9 243.9,275.8 238.5,282.0 233.4,288.5 228.3,293.3 224.2,297.6 220.0,301.2 212.4,303.2 205.8,306.2 198.3,310.0 189.6,314.2 181.4,319.9 179.1,326.9 176.9,333.1 175.6,339.6 174.8,345.2 172.5,352.8 167.7,360.3 165.7,368.3 165.9,376.4 168.7,384.9 173.9,392.3 178.8,399.9 183.0,406.7 179.7,412.9 175.9,417.8 176.7,424.7 188.8,430.6 197.1,435.3 207.0,438.9 216.2,442.7 224.7,445.5 231.2,448.3 239.3,452.4 246.3,455.1 252.4,457.5 260.9,460.6 269.7,463.1 279.8,466.5 286.5,468.1 293.5,470.9 301.2,473.4 309.2,476.1 317.5,479.1 325.7,481.5 334.2,484.1 341.0,487.0 348.9,489.3 357.1,491.5 365.8,493.8 373.2,495.9 382.2,498.4 389.7,499.9 397.9,501.9 405.3,503.4 413.1,505.8 420.4,507.3 427.2,508.8 433.2,510.7 439.1,512.2 446.7,514.3 455.7,516.2 466.0,518.5 472.1,520.3 479.5,521.5 486.4,523.1 494.5,524.9 503.5,527.0 511.7,529.3 520.9,530.8 529.9,533.0 538.6,535.2 546.5,537.5 554.8,539.4 562.5,541.1 569.4,543.1 575.7,543.8 580.9,545.8 594.2,549.2 596.9,550.2 607.2,552.8 612.2,554.7 619.0,556.7 626.7,559.7 635.0,561.8 643.7,564.3 652.5,566.7 661.3,569.1 670.0,572.3 678.5,575.0 685.8,577.0 692.4,578.7 698.0,580.7 712.6,585.1 720.0,587.5 724.6,589.2" stroke="#ff8c00"/>
<polyline points="355.7,200.5 350.1,204.7 342.9,208.8 335.3,213.8 327.0,218.2 320.1,221.9 312.7,225.9 306.6,229.5 300.3,232.7 292.6,236.1 286.6,239.2 280.3,241.8 275.5,244.8 269.8,249.9 263.5,256.4 256.8,263.4 250.8,271.6 244.2,278.4 239.5,284.8 233.1,289.7 228.6,293.7 224.9,297.8 220.1,301.0 214.3,304.9 209.6,308.5 203.8,312.7 198.0,318.0 191.9,324.3 187.6,330.1 183.5,336.0 180.6,341.2 177.8,345.4 173.5,352.8 170.1,359.8 168.8,368.1 170.1,376.2 173.8,384.2 179.5,392.4 186.5,399.3 191.9,406.4 192.8,410.4 192.7,415.0 194.5,420.7 204.0,425.8 211.9,430.4 219.9,434.8 228.1,438.9 235.1,441.2 238.8,444.6 244.9,447.4 250.0,449.8 256.4,452.5 262.3,455.4 270.1,459.0 280.5,462.6 286.3,464.5 293.4,466.2 301.3,468.3 308.4,471.3 317.2,473.8 325.7,475.6 333.3,478.3 341.6,480.6 348.6,482.8 357.1,484.8 365.4,487.3 373.6,488.9 381.6,490.5 390.0,492.3 397.6,494.6 405.4,495.9 412.9,498.0 420.8,499.9 427.4,502.3 433.6,503.7 439.3,505.7 447.1,508.4 455.6,510.6 465.7,513.5 472.0,515.0 479.4,517.3 486.7,520.1 494.6,521.3 503.6,523.0 512.1,527.0 520.4,529.5 529.3,531.2 538.9,533.8 547.4,535.7 555.1,537.6 562.5,539.8 569.6,541.9 575.8,543.2 581.0,544.8 593.9,548.2 596.2,549.5 606.9,553.1 612.6,554.4 618.8,556.9 626.2,559.0 635.0,562.0 643.6,563.9 652.8,566.9 661.3,569.2 669.9,572.1 678.1,574.6 685.9,577.1 692.6,578.8 697.8,580.7 712.5,585.2 719.9,587.6 724.5,589.2" stroke="#ffa100"/>
<polyline points="357.6,187.9 357.6,189.1 349.9,193.2 342.7,197.9 335.3,202.1 327.6,207.4 320.1,210.6 313.0,214.9 306.3,218.7 300.1,222.2 292.9,226.7 286.0,230.2 280.1,233.6 274.3,237.7 268.2,242.4 261.9,247.8 255.2,254.3 249.1,261.6 243.3,268.9 237.9,274.8 231.1,281.7 225.2,287.4 220.7,291.7 215.2,296.1 209.2,301.8 203.9,305.3 198.0,309.9 192.2,315.2 185.5,321.8 179.7,327.2 175.0,332.5 170.5,338.1 167.3,343.8 163.1,351.5 162.1,360.1 162.9,368.1 165.8,376.3 169.8,384.6 174.2,392.5 179.0,399.7 184.2,407.0 193.3,410.6 201.2,413.2 210.2,417.4 215.9,423.0 219.3,427.8 223.6,433.2 227.2,439.3 231.1,443.4 236.3,445.2 244.2,448.9 249.6,450.8 255.3,452.7 262.0,455.6 270.7,458.4 279.9,461.4 286.2,463.4 292.9,465.4 300.7,467.6 308.5,470.0 316.7,472.9 325.0,475.4 333.1,478.4 340.9,480.2 349.3,482.5 356.7,485.3 365.6,486.9 373.8,489.1 381.8,490.8 390.0,493.0 398.3,495.1 406.1,496.8 413.4,498.5 420.5,499.9 426.8,501.5 433.2,502.6 439.3,504.0 446.8,505.3 455.4,506.9 466.1,509.3 472.6,510.9 479.5,512.7 486.7,514.7 494.2,517.0 503.4,519.3 511.9,521.8 521.5,523.6 529.5,525.7 538.6,528.0 547.0,530.7 555.6,533.1 563.2,535.3 570.2,536.9 575.8,538.8 580.5,540.8 593.6,543.6 596.4,545.9 607.2,549.4 612.6,551.4 619.3,553.2 626.9,556.1 635.1,558.4 643.7,561.2 652.3,564.3 661.4,567.2 670.2,570.0 678.1,572.7 686.0,575.2 692.6,577.6 698.2,579.0 712.8,584.2 720.4,587.1 725.2,588.9" stroke="#ffb600"/>
<polyline points="362.4,180.2 357.4,184.0 350.4,188.6 342.9,193.8 335.1,198.0 327.6,203.6 320.0,208.2 312.6,211.8 306.7,215.9 299.7,220.1 292.4,224.8 285.9,229.0 280.0,233.5 274.1,237.1 268.1,242.1 262.1,248.6 255.9,254.5 249.0,262.5 243.3,269.4 237.3,275.2 231.5,282.1 225.6,287.9 221.3,293.0 216.6,297.0 207.7,299.6 200.5,303.0 191.8,306.3 184.1,311.1 174.2,316.2 169.9,323.0 166.0,330.3 163.4,336.0 160.4,342.5 157.8,351.4 153.1,360.4 150.2,368.9 148.4,377.3 150.4,385.7 154.6,393.4 158.2,401.5 163.2,409.2 166.2,414.4 172.0,419.0 180.5,423.5 192.3,429.8 199.5,434.2 207.6,439.1 215.6,442.7 223.8,446.0 229.4,449.6 237.7,453.9 243.7,456.9 250.7,459.1 259.5,462.3 269.1,465.6 280.4,469.1 286.9,470.5 293.8,473.6 301.5,475.2 309.4,478.4 317.2,480.3 325.6,483.0 333.2,485.7 341.8,487.5 349.1,489.8 356.8,491.5 365.5,493.5 374.3,495.5 381.9,497.3 390.3,498.8 398.0,500.3 405.4,502.6 413.3,504.4 420.2,506.8 427.3,508.0 433.1,510.5 439.5,511.6 446.9,513.9 455.8,516.5 465.9,519.0 473.0,520.2 478.8,522.5 486.8,524.1 494.9,525.4 502.6,528.1 511.7,530.2 520.8,531.8 529.4,534.5 538.5,536.7 546.8,538.8 555.0,539.9 562.4,542.4 569.5,544.1 575.7,544.9 580.6,546.0 593.8,549.3 596.6,549.8 607.3,552.8 612.2,554.2 619.3,556.2 626.5,558.8 634.8,560.7 643.5,563.4 652.5,566.0 661.1,568.8 670.1,571.8 678.5,573.9 686.0,576.2 692.5,578.3 698.0,580.2 712.7,584.8 720.4,587.2 725.0,589.0" stroke="#ffcb00"/>
<polyline points="432.1,139.1 429.3,140.7 422.4,146.0 415.8,151.1 408.0,157.3 400.1,163.1 393.9,166.5 387.1,171.6 379.5,175.9 371.7,181.5 365.1,186.9 356.8,191.6 350.0,196.6 342.4,200.3 335.0,204.7 327.5,209.7 319.8,213.6 312.6,218.1 305.5,222.1 300.2,226.3 292.4,231.7 286.2,235.6 280.1,239.8 275.0,243.7 269.4,248.9 262.8,256.1 256.5,263.5 250.3,271.3 244.7,278.7 239.3,283.9 233.5,289.3 228.3,293.7 223.9,296.4 219.5,300.2 215.0,305.6 211.4,309.6 207.4,314.0 202.8,320.8 197.6,327.0 190.8,331.9 184.4,335.8 178.1,340.4 172.3,344.7 165.7,352.4 164.7,359.7 165.0,368.0 167.3,376.3 170.3,383.7 173.5,392.6 178.0,399.8 181.1,407.2 184.9,411.5 187.3,416.0 193.1,421.3 202.2,426.5 209.1,431.6 216.3,435.7 224.0,440.1 230.0,443.3 235.3,446.9 242.5,449.9 247.5,453.3 254.5,455.1 261.2,457.9 270.0,461.3 279.6,464.9 286.7,466.2 293.2,467.7 300.8,469.9 308.1,471.8 316.5,474.2 325.1,476.4 333.5,478.2 341.7,480.1 349.2,481.9 357.2,483.6 366.0,485.3 374.0,487.2 382.0,488.1 390.3,490.9 398.1,492.4 405.8,494.1 413.2,496.5 420.8,498.3 427.3,499.3 433.4,501.4 439.6,502.7 447.2,504.7 454.9,506.4 466.1,508.7 472.4,510.5 479.0,512.4 486.8,514.4 494.3,517.0 503.0,519.4 512.3,521.7 520.9,524.4 529.5,527.2 538.8,529.3 547.3,531.5 555.1,533.8 563.0,536.1 569.5,538.1 575.9,540.2 581.0,541.4 593.9,546.1 596.8,546.9 607.3,552.4 613.0,553.3 619.1,556.2 626.1,558.2 634.8,561.4 643.6,564.3 652.4,566.8 661.4,569.2 670.1,571.9 678.3,574.4 685.9,576.3 692.5,578.8 698.1,580.4 712.5,584.9 720.0,587.7 724.5,589.2" stroke="#ffe000"/>
<polyline points="356.8,173.4 350.2,177.9 342.9,182.5 335.5,186.9 327.4,191.8 320.0,195.9 312.9,200.3 305.9,205.0 299.9,208.5 292.4,213.5 285.1,218.9 279.2,223.2 273.0,228.5 266.2,232.7 260.1,237.9 253.4,242.4 247.4,247.7 240.7,252.7 234.8,259.1 226.4,265.5 219.4,273.0 211.9,279.4 205.7,286.1 198.7,292.0 192.3,297.7 186.3,303.5 180.7,309.7 175.3,316.7 170.5,323.1 166.1,329.9 161.9,336.0 159.0,342.9 155.8,351.0 154.4,359.8 153.6,368.5 154.4,377.2 156.0,385.4 158.0,393.6 161.1,402.1 165.7,408.8 172.9,413.9 181.7,417.2 192.9,421.3 203.6,426.6 209.6,431.3 217.5,436.1 224.0,440.1 230.3,443.0 235.3,446.7 242.7,449.7 248.6,452.9 254.3,454.6 261.6,457.1 270.1,460.0 280.4,463.7 286.7,465.0 293.1,467.7 300.3,470.1 309.1,472.3 316.9,475.1 325.5,477.3 333.7,479.5 341.3,482.0 349.2,484.3 357.0,485.8 365.5,488.4 373.1,490.4 382.1,492.2 390.2,494.3 398.2,496.4 405.3,498.2 413.2,499.7 420.2,501.9 427.0,503.7 432.9,505.9 439.9,507.7 446.5,510.0 455.3,512.5 465.9,515.3 473.0,516.9 478.9,518.3 486.1,521.3 494.7,523.0 502.6,525.5 511.7,527.9 520.6,530.1 529.6,532.8 538.3,534.5 546.9,536.6 554.9,538.3 562.0,540.0 570.0,541.3 575.9,542.7 580.8,543.9 594.1,546.1 596.4,546.3 606.8,549.8 612.6,551.3 619.4,552.7 626.7,555.9 635.1,558.3 643.5,561.2 652.7,564.3 661.4,567.2 669.8,569.6 678.1,572.7 685.9,575.4 692.2,577.3 698.1,579.3 712.8,584.8 720.0,587.6 724.2,589.3" stroke="#ede806"/>
<polyline points="386.3,170.0 379.6,174.9 372.1,179.8 365.0,185.5 357.6,189.9 349.9,194.9 342.6,199.9 335.5,203.6 327.6,208.9 319.9,212.6 312.5,216.8 306.0,221.4 300.6,225.2 292.4,229.7 285.8,233.6 280.1,237.9 274.9,242.0 268.6,247.0 262.8,253.7 256.2,259.3 249.2,265.6 243.5,270.4 236.5,274.5 230.2,277.8 223.7,281.7 215.7,285.1 208.7,289.6 204.2,296.3 200.7,303.1 197.6,309.3 194.7,316.4 192.0,324.1 186.5,329.7 181.5,335.1 176.5,340.1 172.1,345.0 167.2,352.4 164.7,359.8 164.5,368.1 165.6,376.9 169.4,384.3 174.5,391.8 181.0,400.2 187.6,406.4 192.9,410.1 198.1,414.3 204.0,418.4 209.4,424.7 213.9,429.1 219.9,435.4 224.6,439.7 229.5,444.0 235.0,445.7 243.4,449.4 249.3,450.7 255.7,453.1 262.5,455.5 270.8,458.7 280.7,461.4 285.8,463.1 293.0,465.3 301.1,466.9 308.6,469.9 316.2,471.7 324.6,474.4 333.5,475.9 341.7,478.6 349.1,480.9 357.2,482.4 365.7,484.4 373.5,486.5 381.6,487.6 389.6,489.8 398.3,492.4 405.2,494.3 413.7,496.4 420.3,498.2 426.9,499.6 433.0,501.2 439.4,502.8 446.6,504.2 455.0,506.8 465.9,508.8 472.5,510.7 478.7,512.3 486.5,514.2 494.5,516.8 503.2,518.7 511.7,520.9 520.5,523.4 529.7,525.6 538.5,528.3 547.4,530.8 555.4,533.0 562.7,535.7 569.4,537.1 575.5,538.5 581.3,540.1 594.2,544.1 596.9,545.5 607.1,549.2 612.7,551.4 619.2,553.5 626.5,556.3 634.9,558.3 643.5,561.6 652.4,564.5 661.6,567.0 669.9,570.0 678.4,572.9 686.1,575.1 692.5,577.5 697.8,579.7 712.7,584.6 720.2,587.4 724.7,589.1" stroke="#dbf00d"/>
<polyline points="362.9,175.6 357.2,178.9 350.1,182.7 342.8,186.8 335.5,190.5 328.3,195.1 320.5,198.9 312.7,203.1 306.1,207.0 299.9,210.7 292.8,215.6 285.2,220.6 279.0,224.2 273.1,229.1 266.5,234.0 260.3,238.2 254.0,243.3 248.0,249.9 241.8,255.8 235.2,262.9 228.2,269.7 221.0,277.1 215.1,284.3 209.4,289.5 203.1,295.3 196.7,300.8 191.3,306.1 186.6,312.5 181.2,319.6 175.9,326.3 173.3,331.9 169.8,338.1 168.1,344.0 164.9,352.6 160.9,360.2 157.7,369.0 156.6,377.2 160.1,385.9 165.9,392.7 173.4,400.6 180.6,407.8 182.6,412.0 184.8,416.7 190.0,422.4 200.3,427.4 208.8,431.7 217.3,435.8 224.8,439.9 232.3,442.2 237.1,445.8 243.8,449.1 249.2,451.2 254.9,453.8 262.2,456.6 270.3,458.9 279.9,463.0 286.4,465.0 293.3,467.0 301.0,469.3 308.3,472.8 317.2,475.0 325.7,477.7 333.4,480.2 341.3,483.0 349.1,485.2 357.4,487.9 365.7,489.5 374.0,491.7 382.7,494.1 389.8,495.6 397.7,498.1 405.3,500.0 413.0,501.5 420.3,503.8 426.7,505.7 434.1,508.0 439.1,509.2 446.5,511.1 455.3,513.4 465.9,516.3 471.9,518.4 478.6,520.2 486.3,522.2 494.5,524.4 503.0,526.2 511.0,528.5 520.8,530.8 529.4,533.5 538.5,535.4 546.6,537.7 555.0,539.5 562.9,541.5 569.8,543.4 575.4,544.5 581.3,546.0 594.0,549.3 596.9,549.6 607.2,553.0 613.2,554.9 619.0,557.5 626.4,559.4 634.9,561.7 643.7,564.0 652.5,567.2 661.2,569.5 669.6,571.9 678.5,574.7 686.2,577.2 692.2,579.2 697.7,580.9 712.5,585.5 719.8,587.8 724.1,589.4" stroke="#c9f713"/>
<polyline points="407.8,149.2 400.0,153.7 393.2,157.6 387.0,160.8 379.5,165.4 372.0,169.8 364.5,174.6 357.1,178.9 350.3,183.3 342.5,187.4 334.7,190.5 327.7,194.8 319.9,199.4 313.2,204.3 306.1,208.7 299.8,213.9 291.7,218.3 285.4,223.8 279.7,228.8 273.0,233.2 267.2,239.0 261.4,245.1 255.4,251.1 249.3,258.9 242.4,266.1 237.0,273.2 231.2,279.6 225.7,287.1 221.5,293.0 217.2,297.3 211.2,302.1 206.4,306.1 200.9,311.2 194.8,317.0 188.8,322.4 181.7,327.4 175.2,332.5 169.1,337.5 162.8,343.5 156.7,351.5 154.9,359.7 153.8,369.3 153.7,377.4 155.0,385.6 158.4,393.0 162.3,401.2 167.4,408.5 168.0,414.2 170.3,419.0 177.0,424.6 186.7,431.2 194.2,435.6 201.4,440.1 209.1,445.0 217.4,449.0 225.7,452.9 235.3,456.2 241.8,458.7 250.7,460.8 259.2,464.0 269.5,466.1 279.5,468.9 286.6,471.0 293.7,473.0 301.5,476.2 309.0,478.3 317.5,480.7 325.6,483.4 333.9,486.0 342.6,488.3 349.4,490.7 357.4,493.1 366.0,494.7 374.2,496.8 381.2,498.5 390.1,500.6 397.7,502.6 406.0,503.6 413.1,506.0 421.1,507.8 427.4,509.6 433.6,511.9 439.1,513.8 446.7,515.6 455.1,518.5 466.1,521.0 471.8,522.5 479.2,524.2 486.3,526.2 494.8,527.7 502.9,530.3 511.7,532.1 521.3,533.7 530.0,536.6 538.9,538.5 546.8,540.3 555.3,543.0 562.2,544.6 569.5,545.9 575.5,547.8 580.6,548.3 593.9,552.4 597.3,554.0 606.8,556.8 612.6,557.9 619.0,560.2 627.1,562.4 634.8,564.5 643.8,566.8 652.6,569.3 661.3,571.8 670.2,574.2 678.3,576.5 685.9,578.4 692.5,580.5 697.8,582.1 712.3,586.2 719.3,588.3 723.5,589.5" stroke="#b8ff1a"/>
<polyline points="421.5,144.5 415.3,148.9 408.0,154.0 399.9,159.4 393.5,163.2 387.1,167.2 379.5,171.4 371.8,176.1 364.7,180.8 356.7,185.0 350.0,189.3 342.7,193.1 335.3,197.2 327.7,201.2 320.0,205.7 313.5,209.2 306.2,213.8 300.1,217.7 292.4,222.5 286.2,226.4 279.3,231.1 274.1,235.3 267.3,239.3 261.7,245.2 255.0,251.2 248.9,257.1 241.8,263.3 236.7,267.8 229.6,274.7 222.6,280.2 215.6,285.6 210.8,291.6 207.7,299.5 206.4,306.8 205.5,313.4 204.9,321.0 200.5,327.7 195.6,333.8 189.9,337.5 183.4,341.8 176.6,346.0 169.5,352.6 166.4,360.1 165.0,367.9 165.7,376.5 167.2,384.5 169.7,392.3 172.6,400.6 177.0,407.5 178.8,412.1 181.7,417.4 186.8,422.5 195.9,428.7 202.6,432.5 209.5,438.2 217.3,442.6 224.5,446.3 231.3,449.3 239.9,452.8 246.2,454.1 253.7,456.4 260.9,459.6 269.6,462.3 279.7,465.2 286.8,466.8 293.4,469.3 301.0,471.4 308.6,474.1 317.0,476.3 325.7,478.5 333.3,481.0 341.3,483.3 349.1,485.9 357.6,487.4 365.4,490.1 374.0,492.2 382.5,493.9 390.3,496.0 397.8,496.6 405.3,499.8 412.7,500.8 420.6,503.2 427.3,505.1 433.7,506.6 439.8,507.5 446.5,509.9 455.2,512.3 465.8,514.2 471.7,516.2 478.7,517.9 486.9,519.9 494.8,522.2 503.2,524.0 511.3,526.1 520.8,528.4 529.5,530.9 538.5,532.9 547.1,535.7 555.5,537.3 562.5,539.1 569.7,540.4 576.0,542.3 581.3,543.6 594.0,546.9 596.7,547.4 606.8,550.9 612.5,552.9 619.4,554.2 626.7,556.9 634.9,559.9 643.7,563.0 652.4,566.4 661.4,569.6 670.4,572.1 678.6,574.8 685.9,577.3 692.3,579.6 698.3,581.5 712.1,586.5 718.8,588.6 722.3,590.0" stroke="#a0ff1d"/>
<polyline points="370.7,167.6 364.1,171.5 357.0,175.9 350.0,180.1 342.7,184.0 335.0,187.9 327.5,191.8 320.8,196.0 313.2,200.2 305.8,204.8 300.3,208.9 292.5,214.0 285.2,219.3 279.1,223.9 273.0,228.3 266.7,232.9 259.9,238.4 253.8,243.7 247.1,249.4 241.4,256.0 235.3,261.5 227.7,269.4 221.5,277.4 215.0,284.4 210.1,290.5 202.1,295.0 196.1,300.0 189.1,305.4 183.5,310.7 177.6,317.4 174.0,325.1 171.9,331.0 170.2,338.1 168.2,344.3 166.3,352.6 162.7,359.9 160.8,368.1 159.4,376.7 162.2,385.4 166.4,392.9 172.2,400.4 177.5,408.2 181.0,412.0 184.2,416.6 190.5,421.9 198.3,427.7 203.9,432.5 209.6,438.1 216.9,443.2 222.5,446.8 230.1,449.8 240.2,452.6 246.8,454.1 253.9,456.2 261.6,457.7 270.0,460.4 280.0,462.6 286.5,464.7 293.5,466.5 300.8,469.2 309.0,471.7 317.0,473.4 324.8,476.4 333.1,479.0 341.1,481.8 349.0,483.8 357.8,485.7 365.7,487.7 374.6,489.7 381.8,491.9 389.9,492.7 397.8,495.4 405.9,497.2 412.4,498.4 420.6,500.5 426.7,502.6 432.7,503.9 439.5,506.2 447.0,507.6 455.5,509.8 465.8,513.2 471.9,514.3 478.7,516.9 486.6,517.9 494.4,520.6 503.0,522.4 511.7,525.0 521.2,527.9 529.8,529.3 538.5,532.5 546.8,534.7 555.1,537.4 563.1,538.5 569.9,540.2 576.0,542.7 581.0,543.9 593.9,548.7 596.2,550.1 607.5,553.5 612.8,555.3 619.4,557.9 626.5,559.9 634.7,561.9 643.8,564.8 652.5,567.4 661.7,569.6 670.1,572.4 678.3,574.9 685.9,577.1 692.3,578.7 697.9,580.5 712.5,585.1 720.1,587.5 725.0,589.0" stroke="#88ff21"/>
<polyline points="385.1,163.4 379.5,167.1 371.9,170.3 364.9,174.7 357.3,179.4 350.0,183.2 342.3,187.6 334.3,191.3 327.4,195.9 320.5,200.5 313.5,205.8 306.2,210.5 300.0,215.2 292.1,220.3 285.9,226.2 279.5,231.5 274.4,236.2 268.0,242.2 262.0,249.1 255.6,254.8 249.4,262.1 243.0,268.4 237.0,273.9 230.7,279.8 224.3,285.2 219.0,290.6 213.6,294.4 207.6,299.1 201.4,303.3 194.7,308.1 189.4,313.4 182.6,320.1 177.7,326.5 174.1,332.3 169.9,337.9 167.2,343.4 163.6,351.6 162.3,360.5 162.7,368.1 163.7,377.2 168.3,384.7 175.3,392.3 182.3,399.8 191.5,406.5 199.5,409.8 207.6,412.3 216.5,415.4 220.2,421.5 223.1,426.6 227.5,432.9 231.0,438.0 233.2,441.9 238.4,444.9 245.3,448.1 249.6,449.8 256.0,452.9 262.7,455.2 270.4,458.1 280.3,461.7 286.2,463.2 293.2,466.1 301.1,468.5 308.2,470.7 316.8,473.6 325.0,476.7 333.8,479.4 341.4,481.4 349.3,483.5 357.6,486.5 365.6,488.8 374.0,490.5 382.2,493.3 390.1,495.3 397.8,496.5 405.7,498.6 412.7,499.4 420.7,501.2 427.2,501.3 433.3,502.9 439.6,503.2 446.8,504.2 455.1,506.6 466.4,509.1 472.0,510.3 478.9,512.8 486.7,514.1 494.9,516.8 502.9,519.1 511.3,521.3 521.1,523.8 529.7,525.9 538.4,528.3 547.4,530.6 555.0,532.8 562.5,535.0 570.0,536.6 576.1,538.6 581.4,540.4 594.1,543.8 596.8,546.4 607.0,551.4 612.7,552.9 619.4,556.2 626.9,559.1 635.3,560.5 643.4,563.7 652.5,566.1 661.8,569.0 669.8,571.6 678.2,574.1 685.4,576.4 692.5,577.9 698.2,580.0 712.7,584.6 720.5,587.1 725.2,588.9" stroke="#71ff25"/>
<polyline points="372.9,176.3 371.5,177.0 364.5,180.8 356.8,185.4 349.8,188.6 342.9,192.7 335.0,195.8 327.7,199.6 320.3,203.2 313.4,207.7 306.5,211.6 299.7,214.9 292.3,219.3 285.5,223.3 278.6,227.8 273.4,231.9 266.4,236.3 260.0,241.3 254.2,247.9 248.2,254.0 241.3,260.6 236.1,267.4 229.5,274.3 222.9,281.4 217.4,287.4 212.7,294.2 206.9,298.8 201.6,303.5 196.8,309.0 190.8,315.2 186.0,321.9 180.8,327.5 177.6,332.8 173.5,339.3 171.0,344.8 165.9,352.2 160.0,360.2 155.8,368.5 152.0,378.2 153.7,385.2 158.1,393.4 162.9,401.3 168.7,408.4 171.5,413.7 176.1,417.7 184.2,423.4 192.3,429.8 198.5,434.6 203.3,439.5 210.6,444.3 216.9,449.2 225.8,452.2 236.2,455.6 243.6,457.4 251.5,459.1 260.4,461.8 269.7,463.1 279.6,467.3 286.2,468.5 293.8,471.3 300.8,472.7 308.8,475.1 317.1,477.3 325.5,480.1 333.6,482.3 342.2,484.6 349.0,486.4 357.4,488.6 365.1,490.3 373.7,492.1 381.9,493.6 390.2,495.6 397.5,497.6 405.7,499.2 412.9,501.1 420.7,503.1 426.7,505.4 432.8,506.8 439.6,509.1 447.1,510.7 455.0,513.0 466.4,515.7 472.2,517.7 478.7,519.6 486.7,521.6 495.0,523.6 502.5,526.3 511.7,528.2 520.5,530.6 529.5,533.0 538.0,535.2 547.0,537.5 554.6,540.1 562.3,542.0 568.8,543.0 575.7,545.1 580.9,547.2 594.3,551.4 597.3,553.1 607.1,556.6 612.5,558.2 619.7,560.5 627.1,562.3 634.9,564.2 643.6,567.0 652.9,569.4 661.7,571.9 670.0,574.0 678.7,576.5 685.8,578.6 692.5,580.6 697.9,581.8 712.4,585.9 719.6,588.0 724.0,589.4" stroke="#59ff29"/>
<polyline points="422.0,138.6 415.7,142.0 407.8,145.7 400.4,150.3 393.7,154.2 386.5,158.0 379.6,162.9 371.9,168.0 364.5,171.7 356.9,176.6 350.0,181.4 342.2,184.9 335.2,190.3 327.2,194.0 320.4,197.9 313.5,201.2 306.6,204.2 300.0,208.2 292.5,212.3 284.4,216.7 278.5,220.5 272.7,225.5 265.4,230.0 259.1,235.8 253.1,239.7 246.6,244.1 240.8,248.6 233.9,253.3 225.6,262.2 218.0,270.4 210.8,278.1 205.2,285.0 198.0,291.4 192.4,297.7 187.0,304.4 181.7,310.3 176.0,317.4 171.7,324.1 166.6,329.9 162.6,335.9 159.3,342.5 156.0,350.9 154.6,360.2 154.9,368.3 156.4,376.8 158.5,385.4 161.6,393.3 164.7,400.9 170.4,408.6 178.4,412.9 187.4,416.1 199.3,419.4 206.7,425.1 211.1,430.6 216.1,436.2 222.3,440.8 226.7,444.9 232.6,448.0 240.5,451.1 246.8,453.8 253.8,456.4 261.6,459.1 269.5,462.2 280.3,466.3 286.8,467.2 293.6,469.8 301.4,471.5 308.5,474.5 317.0,476.4 325.2,479.0 333.6,480.8 341.7,483.1 349.1,484.7 357.4,486.6 365.3,489.3 373.9,491.0 381.8,492.4 390.1,493.9 397.8,495.9 405.6,497.2 412.8,500.0 420.4,502.0 427.0,503.5 433.4,504.4 439.4,506.7 446.9,508.6 454.6,510.2 466.2,513.0 472.2,514.9 479.1,516.4 486.4,518.9 494.8,520.8 503.2,523.0 512.7,524.9 520.9,527.7 529.6,530.0 537.9,531.8 546.5,533.7 555.5,536.5 562.9,538.1 569.4,539.9 576.1,541.8 580.5,542.6 594.0,546.2 596.7,547.6 607.8,551.2 612.5,553.0 619.1,554.8 626.7,557.3 634.8,560.1 643.5,562.8 652.3,565.9 661.2,568.5 670.0,571.4 678.3,574.0 685.8,576.3 692.6,578.6 697.9,580.7 712.3,585.5 719.7,588.0 723.9,589.4" stroke="#50ff3e"/>
<polyline points="426.5,144.9 422.6,147.4 415.3,153.4 408.2,159.1 400.4,165.9 393.8,171.1 386.8,176.1 379.9,182.3 372.3,188.6 364.3,194.2 357.0,200.2 350.0,205.6 342.1,210.1 335.2,215.7 327.7,220.5 320.3,224.0 312.8,227.2 305.8,230.5 300.4,232.5 292.7,236.0 286.6,238.8 280.4,241.6 275.3,244.8 269.2,247.9 263.6,254.1 256.1,260.8 249.9,267.5 243.4,274.0 238.3,278.6 232.4,282.8 225.9,286.9 218.6,289.9 214.0,294.4 208.7,300.3 204.1,305.3 200.4,311.1 195.8,317.3 190.9,323.6 184.8,329.3 178.4,334.3 173.9,339.9 169.5,344.2 163.7,351.9 158.7,360.1 155.4,369.1 153.1,377.3 155.4,385.3 158.7,393.3 162.7,400.7 167.6,408.5 170.5,413.3 173.5,418.3 181.2,424.2 191.3,429.7 199.5,433.9 207.6,438.9 215.7,443.3 223.0,446.2 230.3,449.2 239.8,451.9 245.8,454.3 253.2,456.0 261.4,458.6 269.9,461.1 280.2,464.2 286.0,465.9 293.4,468.6 301.2,470.5 308.8,472.8 316.9,475.6 325.4,478.3 333.3,481.0 341.2,483.4 349.6,485.2 357.7,487.7 365.8,489.6 373.8,491.6 382.0,493.6 390.2,495.7 397.4,497.4 405.8,499.4 413.2,501.2 421.3,503.3 427.0,504.3 432.9,506.4 440.1,508.5 447.0,510.0 455.1,512.7 466.0,515.4 472.1,517.3 479.6,518.4 486.8,520.4 494.4,522.2 502.9,524.7 512.1,527.0 520.3,529.4 529.2,531.5 538.2,533.9 547.1,536.1 555.5,538.3 562.5,539.9 569.4,542.4 575.7,544.2 580.5,545.4 593.9,549.9 597.1,551.1 607.6,555.1 612.2,556.9 619.1,558.9 626.2,560.9 635.1,563.8 643.7,566.0 652.7,568.7 661.3,571.0 670.2,573.8 678.1,576.3 685.4,578.0 692.4,579.9 697.9,581.7 712.4,585.9 719.5,588.1 723.8,589.5" stroke="#46ff54"/>
<polyline points="374.4,179.9 372.0,181.7 364.7,185.7 356.9,189.6 350.0,193.8 342.5,198.1 335.2,201.0 327.2,204.8 320.5,209.0 313.0,213.1 306.5,216.6 300.9,220.4 291.8,224.7 285.7,229.1 279.6,232.6 274.4,237.5 268.2,241.4 261.6,247.5 255.1,254.8 248.9,262.5 243.1,270.6 238.1,277.3 231.8,285.2 227.5,291.2 223.4,296.5 219.8,300.6 213.5,304.1 208.4,308.2 202.8,312.3 196.0,317.2 189.6,323.5 182.6,328.5 177.6,333.6 171.8,338.8 167.6,343.9 162.1,351.5 159.1,360.1 158.0,368.7 158.7,377.1 159.8,385.1 162.9,393.2 166.1,401.4 169.6,408.7 172.5,413.4 176.1,417.8 183.7,423.3 192.8,430.0 200.0,433.7 208.0,438.6 215.9,442.7 223.1,446.2 229.7,449.8 238.2,453.6 244.8,456.1 252.4,458.4 260.5,460.6 269.7,463.5 280.2,467.3 286.8,468.8 293.4,471.5 301.5,474.1 309.2,476.2 317.2,478.9 325.1,480.5 333.4,483.4 341.4,486.4 348.8,488.4 357.4,490.9 365.9,492.3 373.5,494.8 381.9,496.6 389.9,498.5 397.8,500.1 405.6,502.6 412.6,504.0 421.0,505.8 426.9,507.9 433.1,510.2 439.5,512.1 446.5,513.9 455.7,516.2 466.6,519.0 472.4,521.0 478.9,522.3 486.0,523.8 494.5,526.4 503.0,528.8 511.6,531.6 520.6,532.9 530.1,535.9 538.9,537.7 546.8,540.4 555.5,542.0 562.8,543.9 569.7,545.7 575.7,546.8 580.3,548.8 593.6,553.3 596.5,554.6 607.4,558.6 612.8,560.1 619.2,561.7 626.4,563.9 635.0,566.0 643.7,568.4 652.6,570.7 661.7,572.9 670.2,575.5 678.6,577.6 686.2,579.7 692.5,581.8 698.0,582.8 712.2,586.5 719.0,588.5 723.3,589.6" stroke="#3dff6a"/>
<polyline points="434.8,140.9 429.1,144.0 422.1,149.6 415.3,155.0 407.9,159.6 400.1,165.7 393.2,170.2 386.8,174.5 379.3,179.2 371.9,184.4 364.9,189.1 357.4,193.6 350.1,197.9 342.5,202.8 334.8,206.0 328.0,210.1 320.1,214.2 313.0,219.0 306.2,223.3 300.1,226.6 292.7,230.6 286.0,234.9 280.4,238.5 275.0,242.1 269.0,246.9 262.6,252.7 256.0,260.6 249.6,267.3 243.8,274.2 238.7,280.2 232.2,285.1 226.5,290.0 221.1,293.1 216.5,297.6 211.5,302.6 207.3,307.7 203.8,312.7 198.4,318.3 194.0,325.0 190.0,331.4 186.9,337.1 183.5,342.2 181.4,346.5 177.3,353.8 173.7,360.5 171.6,368.2 170.8,376.1 173.2,384.3 175.4,392.3 178.7,399.9 182.8,406.9 185.6,411.9 189.5,415.6 194.9,420.9 201.7,427.6 206.8,431.3 212.6,437.2 218.3,441.7 224.5,445.8 230.2,449.4 238.9,453.1 244.6,455.3 252.2,457.9 261.0,461.3 269.4,464.3 280.0,467.6 286.5,469.2 293.4,471.8 301.4,473.2 309.1,476.1 316.9,478.0 325.5,480.4 333.2,482.8 341.2,485.0 349.2,486.9 357.6,488.5 365.5,491.1 373.8,492.4 382.1,494.6 389.7,496.1 397.8,497.9 406.1,499.0 413.0,500.9 421.1,503.2 427.8,505.2 432.9,507.1 439.2,508.9 447.0,511.1 455.1,513.0 466.2,515.8 471.3,517.4 478.8,519.1 486.3,521.3 494.6,523.9 503.2,525.4 512.1,528.0 520.8,529.8 530.0,532.2 538.5,535.1 547.1,537.0 554.7,538.6 562.8,540.5 569.4,543.0 575.8,543.5 580.6,544.8 594.1,548.3 597.2,548.9 607.0,552.1 612.4,553.5 618.8,555.5 626.8,557.6 634.6,560.8 643.4,563.1 652.4,566.2 661.6,568.7 669.9,571.6 678.3,574.1 686.1,576.4 692.7,578.7 698.1,580.3 712.5,585.1 719.8,587.8 724.2,589.3" stroke="#33ff80"/>
<polyline points="355.0,187.5 350.1,191.5 342.9,197.1 335.0,201.8 327.4,206.5 320.6,211.2 313.1,213.9 306.5,216.3 299.5,217.9 292.4,221.9 284.9,224.2 279.1,227.5 273.5,230.0 266.7,234.0 259.9,237.7 253.9,243.1 247.7,248.8 241.1,255.6 235.1,261.4 228.1,269.9 220.7,277.8 215.8,284.7 210.2,290.3 203.0,296.5 197.0,301.3 191.5,306.8 186.2,312.8 181.3,319.0 176.4,326.1 172.0,332.4 168.4,338.2 165.1,343.6 162.1,351.2 160.2,359.8 159.2,368.7 159.6,376.8 163.1,384.5 169.4,392.7 175.4,400.7 182.5,407.0 188.2,411.2 194.4,414.8 203.0,418.5 212.4,423.4 219.4,427.6 226.6,432.9 233.0,437.1 238.5,439.8 242.0,442.1 248.3,445.2 252.9,446.7 257.6,449.6 264.0,451.8 270.6,454.4 280.0,458.0 285.7,460.3 292.6,463.1 300.3,464.7 308.6,466.8 316.9,469.8 324.8,472.5 333.0,475.0 341.6,477.6 349.7,480.1 357.0,482.5 365.1,484.1 373.5,486.8 382.3,488.6 390.2,490.6 398.3,492.9 406.1,494.8 413.3,496.8 420.0,498.8 427.6,500.6 433.2,501.9 439.4,504.5 446.5,506.1 455.1,508.0 466.1,511.0 472.5,512.6 479.1,513.9 486.7,516.9 495.0,518.9 503.0,521.0 511.7,523.6 520.8,526.1 529.8,528.4 538.6,530.6 547.1,532.7 555.0,535.1 562.9,536.9 569.9,538.6 575.6,540.4 580.9,542.0 593.1,545.1 596.9,546.0 606.8,550.1 612.8,551.4 619.0,553.5 626.4,555.6 634.9,558.7 643.9,561.2 652.3,565.0 661.3,567.4 669.9,570.6 678.1,573.2 685.6,575.7 692.2,577.6 698.1,579.5 712.8,584.5 720.2,587.4 724.7,589.1" stroke="#2dff91"/>
<polyline points="426.3,140.8 421.9,144.0 415.8,148.7 408.2,154.4 399.8,159.0 393.8,162.6 387.2,166.8 379.8,170.0 372.2,175.0 364.4,179.8 357.7,183.2 350.2,187.4 342.9,191.5 335.3,195.2 327.3,199.1 319.5,202.9 313.1,207.3 306.6,211.2 300.9,215.0 292.0,219.1 285.9,224.0 279.8,227.9 273.4,232.2 266.6,236.9 261.1,241.3 254.2,247.7 248.0,254.0 241.8,260.3 236.1,266.0 229.2,273.5 222.8,280.4 217.1,286.1 211.5,292.2 204.0,296.9 196.5,300.6 190.3,305.3 182.2,310.7 174.2,316.1 170.0,323.2 167.7,330.7 164.7,336.9 162.8,343.5 160.5,351.9 158.5,360.0 157.5,368.9 157.4,377.2 158.7,385.5 160.1,393.0 162.0,401.9 164.7,408.7 169.4,413.8 175.1,418.5 183.4,423.7 195.8,429.4 203.6,432.8 212.7,436.9 221.3,441.5 228.8,444.2 234.6,446.7 242.0,450.5 247.7,452.9 254.4,455.7 261.3,457.8 269.9,461.1 279.9,464.4 286.5,466.6 293.4,469.0 300.8,471.0 309.0,473.7 317.2,476.9 325.0,479.7 333.5,482.9 341.2,485.0 349.5,486.5 357.3,489.1 366.0,492.1 374.0,494.0 381.9,495.6 390.3,498.1 398.3,499.8 405.3,502.0 413.1,504.0 420.7,506.6 426.9,507.6 434.3,510.0 439.7,512.1 446.2,514.5 455.2,517.1 465.8,520.3 472.4,521.9 478.7,523.3 486.1,525.2 495.1,527.2 504.0,529.5 511.5,531.4 521.0,534.3 529.8,536.2 538.6,539.1 547.0,541.1 555.1,542.8 563.0,545.2 569.6,547.2 576.1,548.5 580.8,551.0 593.8,554.5 596.7,555.7 607.2,559.2 612.6,560.9 619.1,562.8 627.0,564.4 634.9,566.4 643.8,568.8 652.9,571.2 661.1,574.1 670.2,576.3 678.3,578.1 686.2,580.4 692.6,582.1 698.3,583.5 712.1,587.2 718.6,588.9 722.5,589.9" stroke="#26ffa3"/>
<polyline points="390.8,164.4 386.7,167.0 379.3,172.1 372.2,176.5 364.1,181.3 357.1,186.1 350.1,191.3 343.2,195.2 334.8,199.7 327.3,203.9 320.0,208.7 313.3,211.2 306.2,215.5 299.6,218.9 293.1,223.4 285.5,226.8 279.6,230.2 273.5,234.4 267.5,238.7 261.4,243.5 254.8,250.8 248.8,258.1 242.1,266.1 237.0,272.4 230.7,281.4 226.0,287.7 221.9,293.9 218.2,298.4 210.8,301.5 204.2,304.9 196.6,308.7 188.0,314.0 180.2,319.4 176.8,325.9 173.0,332.6 170.2,337.7 167.8,343.9 164.8,352.3 162.8,359.7 162.1,368.1 163.2,376.7 164.3,384.9 166.0,392.5 167.9,401.1 171.2,408.7 173.0,412.9 175.8,417.6 182.7,423.3 192.2,429.5 200.6,433.8 207.7,438.5 215.7,442.7 222.7,446.1 231.4,449.1 240.5,451.2 247.3,453.2 254.4,454.8 262.4,456.6 270.2,458.8 280.1,461.7 286.2,464.3 293.3,466.4 300.7,469.9 308.5,472.1 316.7,475.2 324.9,478.0 333.2,480.2 341.4,483.2 350.0,485.5 357.7,488.0 365.5,490.3 374.2,493.0 382.4,494.6 390.3,496.8 397.5,499.7 406.2,501.2 413.4,503.9 420.5,505.8 427.4,508.5 433.0,509.6 440.0,512.2 446.7,514.4 455.2,517.4 465.8,520.0 472.4,521.3 478.9,523.6 486.1,525.7 494.1,528.0 503.2,529.8 511.2,532.5 520.4,534.5 530.1,536.6 538.5,539.7 546.9,541.1 554.9,543.0 562.8,544.7 569.5,546.4 575.5,547.9 580.9,549.6 594.1,552.8 597.5,552.3 607.0,555.8 612.9,557.9 619.0,559.4 627.0,561.6 634.7,563.9 643.3,566.6 652.7,569.2 661.5,571.3 670.0,574.3 678.5,576.7 686.0,578.8 692.2,580.8 697.8,582.3 712.0,586.4 718.9,588.5 722.9,589.8" stroke="#20ffb5"/>
<polyline points="406.8,150.9 400.2,155.0 394.1,159.4 386.5,163.7 379.7,168.8 372.0,173.8 364.9,178.7 357.2,183.3 350.0,188.6 342.9,192.9 336.0,197.2 327.2,202.7 320.0,206.9 313.0,210.0 306.3,214.8 300.2,218.9 292.6,223.3 285.5,228.2 279.8,231.9 274.0,235.9 267.2,240.8 261.4,246.2 254.9,252.0 248.7,257.7 242.2,263.4 236.4,268.0 229.0,273.7 222.0,278.4 215.1,283.6 207.7,288.9 200.1,294.1 193.5,298.4 186.5,303.7 178.9,309.6 172.1,315.5 168.9,322.5 166.6,329.7 165.0,336.4 163.2,343.0 161.2,351.6 156.4,359.9 153.7,368.7 151.1,377.5 153.0,385.5 156.2,393.1 161.3,402.0 167.2,408.5 171.3,413.7 176.4,417.5 185.1,422.9 192.5,429.5 198.9,434.1 205.5,439.1 212.0,444.1 218.3,448.8 226.0,452.2 235.8,455.9 242.6,458.5 250.5,460.8 259.5,463.4 269.1,465.7 279.7,469.6 286.8,471.1 293.3,473.8 301.5,475.9 309.5,478.7 317.5,482.1 325.5,484.6 333.8,487.0 341.3,488.9 349.3,491.6 357.6,494.0 365.3,495.6 373.9,498.8 382.0,499.8 389.9,502.5 398.2,503.5 405.3,505.4 413.3,507.3 420.3,509.6 427.2,512.1 433.0,513.8 439.1,516.6 446.2,519.1 454.9,522.0 465.7,524.6 471.7,526.3 479.0,528.0 487.0,529.5 494.5,531.4 503.1,534.2 511.6,536.5 521.0,538.9 530.3,540.8 538.2,543.1 546.8,545.2 554.9,547.0 562.3,549.4 569.3,550.6 575.9,551.8 580.8,553.4 594.0,556.4 597.3,556.9 606.6,559.2 612.4,561.2 618.7,563.4 626.2,564.5 635.2,567.0 643.9,569.7 653.0,571.8 661.7,574.3 670.5,576.6 678.5,578.7 686.0,580.5 692.5,582.4 697.9,583.9 712.0,587.5 718.2,589.2 721.9,590.1" stroke="#1affc7"/>
<polyline points="414.3,139.7 407.9,142.3 400.3,147.0 393.7,151.3 386.6,154.6 380.0,159.0 371.5,164.4 364.4,168.3 357.8,173.5 350.5,178.4 342.4,182.5 335.9,187.4 327.9,191.5 320.3,196.6 312.9,201.4 306.4,205.8 300.7,210.1 292.5,215.1 285.5,220.7 279.0,225.6 273.1,230.6 266.7,235.5 260.0,241.3 253.8,246.2 247.7,251.5 241.3,255.9 235.2,260.6 227.6,267.1 219.4,273.3 211.2,279.0 204.5,285.2 198.0,291.4 191.7,296.7 185.5,303.2 180.9,309.9 176.1,317.4 170.9,323.6 166.9,330.6 162.9,336.1 160.0,342.0 157.1,351.1 158.0,360.4 160.2,368.3 163.1,376.9 168.2,384.9 174.1,392.1 180.4,400.4 186.9,407.3 187.9,411.9 189.3,415.4 193.2,421.2 203.9,426.2 212.7,430.8 221.5,434.6 229.8,438.5 236.4,440.4 239.3,444.1 244.5,448.0 249.3,450.6 255.0,453.7 262.3,457.0 270.3,460.4 279.7,463.8 286.1,466.5 293.7,468.7 300.7,471.0 309.2,473.4 316.5,475.9 324.8,478.1 333.4,481.0 340.9,483.1 349.1,484.9 357.6,486.7 365.6,489.1 373.7,491.2 381.5,493.4 389.9,494.9 397.8,496.3 406.5,498.2 413.8,500.9 420.7,503.2 427.3,505.4 433.2,507.3 439.0,509.3 447.0,511.5 455.0,514.9 465.8,518.0 472.3,518.9 478.9,522.0 486.6,523.2 494.2,526.2 503.1,528.8 512.0,530.9 520.9,533.3 529.9,536.1 538.2,537.9 546.2,539.4 555.0,541.7 562.7,543.6 569.2,544.8 575.7,546.1 581.4,547.5 594.0,550.3 597.4,550.1 607.1,553.0 612.9,553.8 619.2,555.6 626.6,557.8 634.9,560.5 643.9,563.2 652.2,566.0 661.1,568.8 669.8,571.9 678.0,574.1 685.8,576.7 692.6,578.5 698.0,580.5 712.6,585.3 719.8,587.7 724.2,589.3" stroke="#13f7d5"/>
<polyline points="424.2,142.2 422.8,143.6 415.5,148.3 408.2,153.4 400.2,159.1 393.4,162.7 387.3,167.4 379.5,172.1 372.2,176.4 365.4,181.1 357.0,185.3 349.9,189.9 342.8,194.2 335.3,198.5 327.5,202.5 320.9,206.6 313.5,210.4 306.3,213.7 300.2,217.5 292.7,221.6 285.7,226.0 279.5,230.3 273.8,234.5 267.7,238.4 260.7,243.7 254.6,249.2 247.9,254.3 241.4,259.8 236.2,265.0 228.3,270.5 220.9,276.6 214.1,282.0 207.7,287.6 200.8,294.6 196.4,300.3 191.4,306.5 187.0,312.7 182.2,319.2 177.0,326.1 172.3,332.0 167.5,337.6 164.1,343.0 160.2,352.2 159.0,359.8 158.4,368.4 159.2,376.8 163.8,385.0 169.1,392.7 177.0,400.0 184.5,407.4 189.2,411.1 193.3,415.2 199.7,420.0 206.9,425.1 212.6,429.7 218.9,435.4 224.9,439.8 229.9,443.4 235.8,446.3 243.6,449.3 249.1,451.2 255.7,453.2 262.5,455.4 270.8,458.6 280.5,461.1 286.1,464.4 293.1,465.9 301.0,469.5 308.6,472.4 316.8,475.9 325.2,478.0 332.9,481.1 341.5,483.8 349.2,485.9 357.5,489.1 365.8,491.3 374.3,493.3 382.3,496.0 390.9,498.0 397.2,500.6 405.2,502.5 412.7,504.4 420.5,505.8 426.7,507.5 433.0,509.2 440.2,511.1 447.0,512.9 455.1,514.5 465.8,517.7 472.0,518.8 479.0,520.3 486.4,522.7 494.5,524.5 503.1,526.0 511.4,528.7 520.9,530.7 529.5,532.2 538.9,534.7 546.9,537.9 555.3,539.8 562.6,541.4 569.8,543.5 576.1,545.3 581.2,546.4 593.6,551.3 596.5,553.5 607.0,557.7 612.5,558.7 618.8,561.0 626.9,563.0 634.9,565.4 643.6,567.3 652.5,570.1 661.4,572.6 670.2,574.6 678.6,576.9 686.1,579.1 692.5,581.1 698.1,582.0 712.2,586.3 719.2,588.3 723.4,589.6" stroke="#0df0e3"/>
<polyline points="373.0,179.8 372.4,180.0 364.4,185.4 357.6,189.8 350.0,194.7 342.7,198.8 335.7,204.0 327.4,208.0 320.3,212.1 312.7,215.8 306.2,219.6 300.3,222.9 292.5,227.7 285.8,230.8 279.5,234.3 274.6,237.9 268.2,243.3 262.5,248.1 255.7,255.0 249.3,261.8 242.3,268.4 237.0,273.5 230.2,280.0 225.1,285.7 219.1,290.7 214.8,294.8 208.4,300.6 203.5,304.8 198.9,310.1 193.3,316.3 187.6,322.2 183.7,328.8 180.1,334.6 177.6,340.1 175.0,345.8 172.2,352.5 168.4,360.0 166.8,368.5 167.2,375.9 166.4,384.9 166.8,392.5 166.2,401.1 168.2,408.8 173.9,413.4 180.0,417.0 190.4,421.8 201.5,426.9 209.2,431.4 216.4,436.0 224.4,439.4 231.3,442.7 235.8,446.2 242.9,450.1 247.8,452.1 254.2,455.6 261.4,458.2 269.2,461.6 279.9,465.0 286.5,467.2 293.4,469.9 301.0,471.8 308.6,474.3 316.9,477.1 325.5,480.0 333.4,482.3 341.5,484.7 349.5,487.0 356.4,488.4 365.8,491.5 373.7,492.6 381.8,494.4 390.3,496.9 398.1,499.4 405.7,501.0 413.0,503.2 420.9,505.0 427.1,507.0 432.8,509.3 439.6,511.5 446.5,513.6 455.3,515.8 466.0,519.3 472.2,520.8 478.6,523.1 487.1,524.0 494.4,526.8 503.0,529.3 511.2,531.6 520.5,532.8 529.6,536.1 538.0,538.8 547.2,540.9 555.3,542.5 563.0,544.6 569.8,546.3 576.1,548.6 581.2,549.5 593.7,553.2 597.2,554.8 607.0,557.9 612.5,559.2 619.2,560.7 626.8,563.0 635.1,565.8 643.4,567.9 652.5,570.4 661.6,572.5 670.5,575.3 678.6,577.0 685.9,579.2 692.3,580.9 698.0,582.3 712.2,586.3 719.1,588.4 723.4,589.6" stroke="#06e8f1"/>
<polyline points="448.0,125.0 376.6,159.5 372.3,162.1 364.5,167.0 357.4,171.5 350.3,176.0 342.6,179.3 335.5,184.0 327.6,188.8 320.2,193.0 313.0,196.9 306.5,201.9 299.3,205.1 292.4,210.7 285.2,216.1 278.5,220.8 272.4,225.8 265.6,231.0 259.8,235.4 253.1,239.6 247.2,244.2 240.3,248.6 233.6,253.4 225.3,259.9 216.8,267.4 208.9,275.1 201.5,282.3 194.1,288.9 186.6,294.2 180.9,299.9 174.6,307.2 169.2,314.4 165.8,320.9 163.1,328.7 160.1,335.3 158.5,342.2 157.2,350.6 153.6,359.9 151.5,368.7 150.6,377.4 154.2,385.7 160.2,393.3 167.8,400.9 175.6,408.1 180.5,412.0 186.6,416.3 193.8,421.2 203.1,426.6 209.3,431.4 215.6,437.0 221.2,440.7 227.3,444.3 233.6,447.3 242.0,450.6 248.1,452.1 254.7,454.3 261.9,456.8 270.5,459.3 280.0,462.4 286.2,464.8 293.4,467.1 300.5,469.7 309.0,472.6 316.8,475.4 325.3,477.9 333.5,480.8 341.1,483.1 349.2,485.6 357.6,487.9 365.6,490.7 373.9,492.8 382.3,495.1 390.3,496.3 397.9,499.2 405.8,501.5 413.1,503.0 420.9,504.9 427.8,506.9 433.0,508.2 439.1,510.9 446.7,513.0 455.2,514.9 466.1,517.8 471.9,519.7 479.2,520.9 486.0,523.4 494.4,525.0 503.0,527.5 512.0,529.5 520.6,532.0 529.0,534.9 538.3,536.6 546.8,539.2 555.2,540.9 562.9,543.6 569.9,544.7 575.9,545.6 580.4,547.8 593.6,551.2 597.0,551.9 607.3,555.0 612.7,557.0 619.4,559.1 626.1,561.0 634.9,563.3 643.4,565.7 652.7,568.9 661.6,571.4 670.1,573.7 678.1,576.4 686.1,578.4 692.6,580.5 697.9,582.3 712.3,586.5 718.8,588.6 722.8,589.8" stroke="#00e0ff"/>
<polyline points="377.7,158.7 372.3,162.2 364.7,166.7 357.4,171.3 349.6,175.7 343.2,179.1 335.2,183.9 327.9,188.0 320.5,192.8 313.3,196.8 306.1,200.9 299.8,205.0 291.7,210.9 285.6,215.2 278.5,220.7 271.9,226.5 266.4,232.0 259.7,237.3 253.3,241.7 246.9,245.5 240.7,249.5 233.4,253.2 224.9,259.6 216.7,267.4 208.1,274.0 200.5,280.1 192.0,287.4 185.6,293.6 179.3,300.1 173.4,306.0 166.5,312.6 161.7,319.8 157.7,326.7 154.2,333.7 151.6,340.9 149.9,350.1 148.3,360.1 147.6,368.9 148.2,377.8 150.9,386.1 155.3,393.3 161.8,401.3 167.6,408.3 169.3,413.9 171.8,418.5 177.2,424.7 191.0,429.8 199.3,434.3 207.8,438.2 216.5,442.7 225.1,445.3 230.5,449.4 238.1,453.9 244.4,456.6 252.0,458.9 260.0,462.4 269.3,465.4 279.7,469.1 286.2,470.7 293.8,472.7 301.3,475.3 309.0,478.0 317.3,481.0 325.5,483.1 333.6,485.2 341.3,488.0 349.0,489.7 357.2,492.8 365.7,494.6 374.1,495.8 382.2,498.3 389.7,499.8 398.2,501.9 405.2,503.6 413.2,505.1 420.7,507.4 426.7,509.5 433.2,512.4 439.7,513.4 446.0,515.6 454.7,518.1 465.9,522.0 472.4,523.0 479.2,525.1 486.2,527.2 495.2,528.6 503.2,530.7 512.5,533.8 520.6,535.4 529.4,537.5 538.4,539.9 547.3,542.2 555.2,544.0 562.9,547.1 570.2,548.4 576.0,549.5 581.2,551.3 593.2,555.7 596.6,556.9 606.8,560.9 612.6,561.8 619.7,564.1 627.1,565.5 634.9,568.1 643.6,570.7 652.5,572.3 661.4,574.8 670.3,577.2 678.5,579.1 686.1,580.9 692.8,582.8 698.1,584.4 711.8,587.8 718.1,589.5 721.7,590.2" stroke="#00cbff"/>
<polyline points="390.9,169.1 386.4,172.0 380.0,177.1 372.0,182.0 364.5,187.5 357.6,192.4 349.7,196.3 342.9,201.4 335.0,206.2 327.4,210.5 320.5,214.0 313.4,217.5 306.1,221.1 300.6,224.4 292.3,228.0 285.8,231.8 279.6,235.0 274.2,238.2 268.0,242.8 262.0,248.1 255.5,255.0 249.3,263.0 243.3,270.6 238.5,278.3 231.9,285.5 227.8,292.1 224.2,297.5 221.1,301.9 214.8,305.5 209.3,308.6 203.2,312.5 196.3,316.7 188.3,322.4 182.3,328.0 177.1,333.9 172.9,339.0 168.7,344.7 163.8,351.7 162.6,360.2 163.4,368.4 166.0,376.8 168.2,384.5 170.9,392.1 175.4,400.6 179.5,407.7 179.7,412.2 179.1,417.1 183.0,424.1 193.6,429.3 202.8,433.3 210.9,437.8 220.1,441.6 227.1,444.5 232.0,448.4 238.7,452.2 245.1,455.2 252.0,458.2 260.7,461.1 269.1,464.0 280.2,467.8 286.8,470.7 294.3,472.5 301.5,474.6 309.4,476.2 317.4,479.7 325.5,482.2 333.0,484.4 341.8,486.5 349.3,488.9 357.1,490.8 365.6,492.8 373.6,494.5 382.1,496.3 390.1,497.9 398.1,499.4 405.7,500.9 412.6,502.7 420.8,504.7 427.1,506.3 433.0,508.2 439.5,509.7 446.7,511.3 455.3,512.8 466.0,515.4 472.2,516.5 479.0,518.6 486.2,520.0 494.1,521.2 502.5,523.3 511.5,525.5 520.8,527.9 529.8,529.9 538.2,532.6 547.2,534.5 554.4,536.5 563.1,538.5 569.7,540.7 575.7,542.0 580.7,543.6 594.3,547.5 597.4,549.9 606.9,553.6 612.8,555.3 619.8,557.4 627.1,559.9 634.8,562.7 643.6,564.6 652.5,567.7 661.3,570.0 670.5,573.1 678.3,575.5 686.0,577.5 692.3,579.6 698.2,581.3 712.3,586.1 719.3,588.1 723.6,589.5" stroke="#00b6ff"/>
<polyline points="379.5,160.3 379.4,159.9 372.1,165.4 365.0,170.4 357.2,175.0 350.0,179.6 342.5,184.4 335.8,189.2 327.4,193.9 320.2,198.2 312.9,202.5 306.1,207.6 300.0,210.7 292.5,215.7 285.7,220.6 278.7,224.8 273.5,230.3 266.8,234.7 260.3,239.7 253.2,244.6 247.5,248.4 241.3,253.1 235.1,257.0 225.9,263.0 217.2,269.0 209.0,274.9 200.4,281.1 193.7,288.5 188.2,295.3 183.2,300.9 178.4,309.2 175.3,316.4 171.0,323.4 167.4,330.0 164.7,336.5 162.4,343.4 160.3,351.8 158.9,360.1 158.2,368.7 159.2,376.7 161.5,385.2 167.2,392.7 172.4,401.0 178.6,408.0 183.3,412.0 187.5,415.5 195.0,420.3 202.6,426.7 208.5,431.7 214.4,436.6 220.7,441.2 226.3,445.3 233.0,447.8 241.5,450.3 248.2,452.8 254.4,453.8 262.1,456.6 270.3,458.9 280.2,462.5 286.3,465.2 293.1,466.4 300.4,469.9 308.6,472.4 317.2,475.5 325.1,479.0 333.5,481.3 341.4,484.0 348.9,486.1 357.8,488.6 365.8,491.0 373.6,493.7 381.9,496.1 390.3,498.4 398.5,500.2 406.0,502.6 413.4,504.6 420.6,506.6 426.9,507.6 433.6,509.9 440.0,511.7 446.2,513.4 455.3,515.5 465.9,518.1 472.2,519.2 479.0,521.3 486.6,522.7 494.5,524.9 503.6,527.7 511.3,528.9 520.0,531.4 529.9,533.3 538.3,535.8 547.2,537.9 555.1,539.4 562.8,541.4 569.5,542.7 575.4,544.2 580.5,546.0 594.1,548.5 596.8,549.0 607.0,551.6 612.4,553.4 619.1,555.1 626.7,557.8 634.9,560.0 643.7,562.6 652.5,565.3 661.0,568.4 670.1,570.8 678.1,573.7 685.8,576.1 692.4,578.3 698.2,580.0 712.7,584.8 720.4,587.4 725.0,589.0" stroke="#00a1ff"/>
<polyline points="396.6,147.9 393.7,150.2 386.4,154.7 379.6,159.8 371.6,166.1 364.7,171.3 356.7,177.2 350.0,182.9 343.0,188.7 335.1,194.4 327.3,199.6 320.0,204.5 312.8,208.4 306.7,212.2 299.2,215.6 292.1,220.3 285.6,224.4 279.2,227.9 273.2,232.5 267.3,236.8 260.7,241.6 253.5,247.2 248.4,251.6 241.9,256.6 235.2,261.8 228.0,267.7 220.0,273.7 211.3,279.9 205.1,285.6 198.5,292.4 192.7,298.6 188.0,304.5 183.1,311.5 178.3,318.1 173.8,324.4 168.8,330.4 165.3,336.3 161.6,342.7 157.5,351.6 153.6,360.4 150.7,368.4 148.9,378.0 149.8,386.3 152.4,393.7 156.3,401.8 161.0,409.8 168.4,413.6 177.3,417.4 189.6,422.2 195.5,428.9 198.4,434.4 203.2,440.1 206.8,445.4 213.3,450.7 222.8,453.3 235.1,456.3 242.7,458.4 251.0,459.8 260.4,461.6 269.6,463.3 280.3,465.6 286.0,468.1 293.2,470.7 301.1,472.2 309.2,475.5 317.3,478.3 325.1,480.0 333.4,483.0 341.7,485.7 348.5,487.6 357.1,490.3 365.3,491.9 373.8,494.5 381.7,496.5 389.8,498.4 397.9,500.0 406.0,502.1 413.0,503.7 420.8,506.0 427.2,508.8 433.3,509.5 439.4,511.7 447.1,513.8 455.5,516.1 466.1,518.5 471.4,520.0 479.0,521.5 486.3,523.9 494.5,525.8 503.0,528.0 511.8,530.3 520.9,532.6 529.5,534.6 538.8,536.7 546.7,539.0 554.5,540.6 562.9,543.0 569.6,543.9 575.9,545.6 580.7,546.8 594.4,549.8 596.6,551.4 606.9,554.3 612.3,555.8 619.7,558.2 626.8,559.8 634.2,562.5 643.2,565.2 652.6,568.0 661.5,570.6 670.1,573.3 678.2,575.6 685.6,577.9 692.4,580.2 697.9,581.2 712.3,586.0 719.4,588.1 723.6,589.5" stroke="#008cff"/>
<polyline points="411.5,155.6 408.0,158.1 399.7,162.7 393.7,167.8 386.8,172.6 379.4,177.5 372.1,182.2 364.6,187.4 357.3,192.3 349.7,196.9 342.7,201.5 335.5,205.4 327.7,209.2 320.3,214.2 313.3,218.3 306.2,222.3 299.8,225.5 293.0,230.1 286.5,234.1 280.4,237.9 274.8,241.2 268.4,246.4 263.3,252.4 256.0,259.7 249.7,267.0 243.2,273.2 238.2,278.4 231.5,284.1 226.0,287.8 220.8,292.0 215.4,295.8 208.4,300.9 202.7,304.4 196.9,308.9 190.7,315.6 184.6,320.2 179.8,327.2 176.1,333.1 173.0,338.7 170.2,344.6 166.2,352.1 160.8,360.0 157.1,368.6 154.3,377.4 155.9,384.9 159.5,392.8 165.3,401.5 173.5,408.0 182.3,412.0 193.0,415.2 205.8,418.9 212.7,424.2 217.8,428.4 224.3,433.9 229.9,438.3 233.7,441.9 237.8,445.2 245.1,447.7 250.2,450.2 256.1,452.5 262.7,455.6 269.9,458.3 280.4,462.2 286.1,464.0 293.9,467.0 300.9,469.1 308.8,472.1 316.8,475.1 325.2,478.6 333.5,481.4 341.4,483.8 349.0,486.6 357.2,488.5 366.1,490.7 373.8,493.5 382.1,496.2 389.6,497.8 398.2,500.2 406.0,502.2 412.7,505.2 420.7,507.2 426.6,509.2 433.3,512.0 439.5,514.9 446.5,517.6 455.4,520.5 466.5,524.1 472.2,526.5 479.4,528.0 486.3,529.9 494.2,533.1 503.1,534.9 511.8,537.6 520.7,539.5 529.6,542.5 538.2,544.2 547.4,546.0 555.5,548.5 563.2,550.1 569.7,552.4 575.8,553.7 580.9,554.7 593.6,557.8 596.7,558.6 607.1,560.4 612.7,561.5 619.4,563.1 626.9,565.2 634.8,567.8 643.9,569.5 652.4,571.7 661.6,575.0 670.0,576.6 678.4,579.1 686.3,580.8 692.7,582.8 698.1,583.7 712.0,587.2 718.3,589.2 722.0,590.1" stroke="#0079ff"/>
<polyline points="380.2,175.4 379.8,176.7 372.1,182.0 365.0,186.8 357.5,191.8 349.4,196.4 343.3,200.0 334.9,204.4 327.8,208.5 320.7,212.4 313.1,216.1 305.9,219.3 300.2,222.1 292.2,226.2 286.1,228.8 279.9,232.2 274.0,235.9 267.3,239.8 261.2,244.2 255.1,252.6 248.9,259.9 242.4,268.1 237.3,276.1 231.9,284.2 227.3,291.8 224.4,297.2 221.2,302.1 215.5,306.1 210.2,309.2 204.7,312.5 199.0,318.4 192.5,324.7 187.1,329.8 182.2,335.9 178.0,340.2 174.8,346.3 169.1,352.6 165.8,359.6 162.8,368.3 162.8,376.8 165.0,385.1 168.4,392.4 174.4,400.8 181.9,407.4 189.1,411.0 197.9,414.2 207.6,418.3 215.4,423.1 221.3,427.7 228.4,432.3 234.4,436.3 238.3,439.4 241.3,442.1 247.1,445.7 251.6,448.6 256.8,451.8 262.9,454.3 270.4,457.4 280.3,460.7 286.1,463.4 293.4,466.4 301.1,468.6 308.6,471.8 316.9,474.2 325.1,477.8 333.0,480.5 341.0,483.2 349.3,485.9 357.2,488.7 365.6,491.2 374.0,493.0 382.4,495.4 390.0,496.9 398.0,500.0 405.8,501.9 413.1,504.2 420.8,506.7 427.4,509.3 433.4,512.0 439.4,513.5 446.1,516.4 455.6,519.3 466.3,523.0 471.7,524.8 478.4,527.2 487.0,529.4 494.2,531.6 503.2,533.8 511.9,536.2 520.8,538.6 529.9,540.9 538.3,542.8 546.8,545.2 554.9,547.4 562.9,548.3 569.9,550.5 576.2,552.1 581.1,552.7 594.0,555.0 597.1,555.1 606.9,557.4 612.4,558.8 618.9,560.3 627.2,562.2 634.9,564.1 643.4,566.8 652.3,568.8 661.3,571.8 670.2,574.2 678.1,576.7 686.1,579.0 692.3,580.4 698.1,582.1 712.2,586.1 719.2,588.4 723.4,589.6" stroke="#0066ff"/>
<polyline points="430.6,136.7 428.8,137.1 423.1,140.5 415.9,144.8 407.8,149.3 400.0,153.9 393.7,158.0 385.9,162.6 379.8,166.8 371.6,172.3 364.6,177.4 358.1,182.0 349.8,186.7 342.7,191.1 334.6,196.2 327.5,200.6 319.9,204.3 313.3,207.7 306.5,211.7 300.2,214.6 291.8,219.1 285.4,222.4 278.9,226.8 273.6,230.5 266.7,234.4 259.6,238.9 253.7,244.5 247.5,250.7 241.4,257.0 235.8,262.8 227.8,270.0 221.3,277.2 214.9,284.0 209.2,289.8 201.7,294.9 195.6,300.4 189.5,304.6 183.1,310.5 176.2,316.6 170.3,323.8 165.1,329.6 161.2,335.4 157.5,341.6 152.6,350.1 149.0,360.5 146.2,369.5 144.9,378.2 148.0,385.9 153.7,393.8 161.4,401.4 168.1,408.8 168.4,414.0 168.0,419.6 172.6,426.1 185.8,431.8 195.6,435.5 206.2,439.3 216.5,442.5 225.6,445.3 231.1,449.0 238.8,453.0 244.9,455.5 252.2,457.7 260.0,460.6 269.5,464.3 280.0,467.9 286.2,469.7 293.5,472.5 301.3,474.9 309.0,477.6 317.5,479.8 325.2,482.6 333.4,485.1 341.8,487.4 349.2,489.5 356.9,492.2 365.6,493.9 374.2,495.5 382.2,497.8 390.1,500.2 397.9,501.5 405.4,503.9 413.9,505.9 421.3,509.1 427.1,510.9 432.3,513.7 439.1,515.8 446.5,519.1 455.1,521.7 465.9,525.3 471.8,527.7 478.8,530.1 486.7,531.8 494.3,534.4 502.8,536.6 512.2,539.8 521.0,541.9 529.9,543.9 538.4,545.9 546.9,548.4 555.2,550.2 562.7,551.9 569.2,553.5 575.6,555.0 581.1,556.4 593.4,559.2 596.5,559.7 607.6,562.0 612.1,562.5 619.5,564.2 626.9,566.2 634.7,568.2 644.1,570.5 652.7,573.1 661.6,575.0 670.4,577.6 678.5,579.6 686.0,581.5 692.6,583.0 698.3,584.6 711.7,588.2 717.7,589.5 721.3,590.4" stroke="#0053ff"/>
<polyline points="434.1,135.0 429.1,138.4 422.1,143.3 415.4,147.8 407.9,153.1 399.4,156.9 393.7,161.1 386.8,164.5 379.2,169.7 372.2,173.5 364.4,178.2 357.3,182.2 349.6,186.8 343.1,190.6 335.4,194.7 327.1,198.7 320.9,203.4 312.9,208.3 306.3,212.4 299.9,217.1 292.4,222.3 285.6,227.8 279.6,232.7 274.1,237.0 268.5,242.6 262.1,248.6 255.2,255.7 249.4,263.0 243.8,270.8 238.2,276.7 231.0,283.5 226.6,288.9 222.1,294.2 217.6,297.7 210.7,302.2 205.5,306.4 200.0,311.0 193.6,316.7 187.3,322.1 181.5,328.2 176.5,333.7 172.0,338.9 167.6,344.0 163.1,351.6 161.3,360.4 160.9,368.5 161.0,377.2 160.2,385.2 159.1,393.2 159.9,401.7 162.5,409.0 168.6,414.0 177.3,417.6 188.7,421.7 198.1,427.8 204.2,432.5 211.6,437.3 218.8,441.7 225.0,445.8 231.1,448.9 238.8,452.6 245.8,455.2 253.0,457.3 260.6,460.2 269.8,462.9 280.1,466.0 286.7,468.4 293.6,470.5 301.6,473.3 308.6,476.1 317.3,478.6 325.9,481.8 333.0,484.5 341.1,485.9 348.8,488.4 357.4,491.3 365.8,492.8 373.7,495.7 382.1,497.2 390.1,499.0 398.3,500.7 405.9,503.1 413.1,505.4 420.9,508.3 427.4,510.6 433.6,513.1 439.7,516.2 446.9,518.9 455.0,522.8 465.9,526.3 472.4,527.3 479.3,529.9 486.8,532.5 494.3,534.3 502.8,537.0 511.6,539.3 521.0,542.1 529.6,544.6 538.6,546.8 547.4,548.4 555.4,550.4 562.3,552.2 569.6,554.3 575.6,556.0 581.4,556.6 594.2,560.1 597.0,560.6 606.9,562.5 612.5,563.7 619.4,564.8 626.9,567.4 635.3,568.8 643.5,571.4 652.9,573.3 661.4,575.5 670.2,578.0 678.5,579.6 686.1,581.4 692.7,583.0 698.0,584.6 711.7,588.0 718.0,589.3 721.8,590.2" stroke="#0040ff"/>
<polyline points="376.0,171.1 372.6,174.5 364.8,178.9 357.6,183.6 349.5,188.6 342.9,193.7 335.4,197.6 327.2,202.7 320.5,207.8 312.8,211.2 305.8,215.2 299.5,219.0 292.9,224.0 285.8,227.9 279.7,232.0 273.7,236.4 267.6,242.1 261.7,247.6 255.0,253.5 249.0,258.7 242.5,263.7 235.7,268.7 229.2,273.3 221.6,278.1 214.5,282.4 207.3,287.1 201.8,294.3 197.6,300.1 192.9,307.0 189.4,313.9 185.1,322.0 180.4,326.8 175.0,332.6 171.5,338.5 167.7,343.9 163.0,352.1 161.4,360.4 160.2,368.8 161.1,376.9 162.7,385.0 165.6,392.8 171.0,401.3 177.1,408.0 185.9,411.6 195.3,414.9 207.3,418.4 215.1,423.8 220.9,428.1 226.8,433.2 233.3,437.9 236.7,440.8 241.1,442.6 248.7,444.9 253.1,446.9 258.3,448.9 263.9,451.1 270.5,453.9 279.6,456.2 286.4,458.9 292.6,461.5 300.5,464.1 308.4,466.4 316.5,469.9 324.8,472.9 333.1,476.1 341.1,478.9 348.6,480.8 357.9,483.5 365.5,486.6 373.2,488.9 381.7,491.1 389.7,493.4 398.3,496.3 405.2,496.9 413.1,500.1 420.5,502.3 427.1,504.0 433.2,505.7 439.9,507.1 447.0,510.0 455.4,511.8 465.9,515.0 472.0,516.6 478.8,518.5 486.5,520.5 494.5,522.3 502.7,524.5 511.6,527.5 521.2,528.8 530.1,531.6 538.5,534.6 546.3,536.8 555.0,539.2 562.6,541.6 569.6,543.2 576.3,545.0 581.3,547.1 594.0,551.3 596.7,553.1 606.6,556.8 612.3,558.4 619.2,560.9 626.9,563.3 635.0,565.2 643.4,567.3 652.5,569.7 661.4,572.6 670.1,574.6 678.4,576.5 686.2,578.8 692.4,580.6 698.0,582.3 712.4,585.9 719.5,588.2 723.8,589.4" stroke="#0036ff"/>
<polyline points="376.3,167.1 371.8,170.1 364.7,173.8 357.1,177.1 349.6,181.7 342.5,185.0 335.0,189.0 327.5,192.4 320.1,196.9 313.3,201.1 306.3,204.9 300.7,208.9 292.4,213.9 284.9,218.9 279.0,223.6 272.8,228.2 266.7,232.8 260.1,237.6 253.0,242.5 246.9,247.5 241.1,252.6 234.7,257.8 226.8,265.4 219.2,271.9 211.2,279.1 204.6,284.9 197.3,291.2 190.5,297.4 184.3,302.1 179.0,308.4 173.2,316.0 169.7,323.1 166.3,329.6 162.8,336.0 160.6,342.8 158.5,350.8 155.9,359.8 154.3,369.0 154.0,377.3 155.0,385.1 157.0,393.5 162.2,401.4 167.9,409.2 175.6,413.1 183.2,416.0 195.0,420.4 208.1,425.4 215.7,429.0 224.9,433.6 233.4,437.7 238.4,440.0 243.0,442.0 249.6,443.2 254.9,446.2 259.4,447.1 264.8,449.5 271.7,452.2 279.7,455.2 285.2,457.3 292.4,461.1 299.8,463.4 308.4,466.2 316.7,469.3 325.5,472.6 332.9,475.6 341.5,478.6 349.1,480.9 356.8,484.3 364.9,486.1 373.8,489.0 381.9,491.9 390.1,493.7 397.8,496.0 405.6,498.3 412.6,500.8 420.5,502.7 426.6,505.4 433.1,507.2 439.7,509.2 446.7,511.4 455.5,514.2 465.7,517.5 471.5,518.9 479.0,520.8 486.5,523.4 494.3,525.3 503.3,527.6 511.2,530.0 520.7,532.7 529.4,534.9 538.4,537.8 547.0,539.4 555.1,541.6 562.2,543.4 569.5,545.9 576.1,547.2 581.2,548.4 593.9,551.9 596.5,552.9 607.2,555.7 612.3,556.6 619.5,559.0 626.7,561.1 634.8,563.5 643.8,565.6 652.7,568.5 661.4,571.1 670.2,573.9 678.4,575.8 686.1,578.1 692.3,579.8 698.0,581.5 712.5,586.0 719.4,588.2 723.6,589.5" stroke="#002dff"/>
<polyline points="416.8,143.7 415.7,144.7 408.2,148.8 400.3,152.8 393.7,156.4 387.0,160.7 379.3,164.5 372.4,168.9 364.8,173.3 357.1,177.2 349.4,181.1 342.5,184.9 334.9,189.7 327.7,193.1 320.4,197.1 313.9,200.4 305.6,204.0 299.8,207.9 292.6,212.4 285.3,216.7 279.3,221.1 272.0,226.0 265.5,230.5 259.3,235.5 253.0,239.7 246.6,244.0 240.1,248.4 233.9,253.1 225.4,260.6 217.0,269.1 209.9,277.1 202.8,283.4 194.9,289.9 188.6,294.8 182.1,301.5 176.6,308.2 170.9,314.8 166.6,322.1 163.2,328.2 160.3,335.1 158.3,341.6 156.2,351.1 156.1,360.1 157.1,369.0 159.2,377.0 159.8,385.6 159.7,393.2 163.3,401.8 165.8,409.4 167.5,414.1 170.7,418.7 177.8,425.0 191.1,430.1 200.1,433.9 210.0,437.7 219.2,441.2 227.3,444.6 232.2,448.1 239.6,451.7 246.1,454.5 252.6,457.5 260.1,459.7 269.8,463.4 279.6,467.3 286.9,468.7 293.2,471.4 301.4,473.3 309.6,476.6 317.3,478.8 325.1,480.6 333.4,483.3 342.0,485.8 348.9,487.9 357.5,489.4 365.9,492.2 373.1,494.2 382.0,495.8 390.1,497.3 397.8,499.2 405.3,501.6 412.9,503.8 420.2,505.9 427.2,507.6 433.5,510.0 439.1,512.0 446.4,514.4 454.7,517.2 466.0,520.4 471.6,521.7 479.1,523.2 486.2,526.0 494.3,527.7 502.9,529.7 511.5,532.4 520.3,534.5 529.0,537.5 538.9,538.7 546.7,541.8 555.7,544.0 562.4,546.0 569.8,548.3 575.9,549.5 580.8,552.3 594.5,554.9 597.0,556.8 606.6,560.0 612.1,561.1 619.3,563.2 626.6,565.2 635.1,567.0 644.0,569.5 652.7,572.3 661.4,574.5 670.5,576.9 678.4,579.1 685.9,580.8 692.7,583.1 697.9,584.3 711.7,588.1 717.8,589.6 721.2,590.4" stroke="#0023ff"/>
<polyline points="425.0,151.0 384.7,157.1 379.5,160.4 372.7,163.9 364.9,167.4 357.4,171.6 350.1,175.9 342.4,179.9 335.4,184.2 327.4,188.6 320.6,192.9 313.0,197.3 306.3,201.7 299.8,205.2 292.1,211.1 284.4,215.4 278.4,221.0 272.4,226.3 266.0,230.5 259.4,235.3 253.0,239.7 246.6,243.8 240.3,248.6 233.8,253.3 225.3,260.1 216.9,268.4 208.9,275.5 201.4,282.1 193.7,288.9 187.1,295.7 182.2,300.6 175.5,307.3 171.3,314.8 166.1,321.6 162.2,328.2 157.9,334.6 155.0,341.3 152.0,350.7 150.7,359.7 150.8,368.6 151.3,377.7 153.0,385.4 157.2,393.9 162.7,401.3 168.1,408.4 172.7,413.2 178.4,417.5 187.1,422.8 198.6,427.6 206.4,432.0 215.5,436.9 222.8,440.2 229.4,443.9 235.0,446.7 243.6,449.7 248.7,452.1 255.1,453.4 261.8,456.3 270.1,458.8 279.4,461.3 286.2,464.3 293.6,466.9 300.5,469.6 308.8,472.8 317.4,475.8 325.5,478.9 333.5,482.2 341.6,484.5 349.3,487.2 356.9,490.3 365.5,492.5 374.1,495.1 381.6,497.4 389.9,499.7 397.9,501.8 405.7,503.8 413.1,505.8 420.4,507.9 427.0,510.1 433.5,511.8 439.8,514.2 446.7,516.9 455.7,519.2 466.6,522.2 472.0,523.6 479.0,525.5 486.8,527.6 494.9,529.5 503.2,532.1 511.8,533.5 520.4,535.7 529.5,538.6 538.6,541.2 547.2,543.2 554.7,545.0 563.0,547.1 569.7,548.8 575.9,550.7 580.9,552.2 593.7,555.8 597.0,556.7 607.1,559.6 612.5,561.3 618.8,562.9 626.9,564.8 635.2,567.3 643.2,569.2 652.7,571.4 661.2,574.1 670.1,576.3 678.2,578.2 685.9,580.3 692.4,582.2 698.1,583.5 712.0,587.2 718.6,588.9 722.5,590.0" stroke="#001aff"/>
<polyline points="395.7,148.6 393.4,149.9 386.4,154.3 379.2,158.1 372.1,162.3 364.2,166.8 357.2,170.9 350.3,176.0 342.9,179.2 335.6,183.7 327.4,188.2 320.2,193.1 313.0,197.2 306.3,201.7 300.3,206.0 291.8,210.4 285.3,217.0 279.0,222.0 272.1,226.6 267.0,232.4 259.7,237.4 253.4,242.3 246.8,245.8 240.9,251.6 234.3,256.4 225.9,263.0 217.5,269.4 209.4,275.9 201.8,282.3 194.1,288.9 187.5,295.0 181.3,301.1 176.7,308.0 171.8,315.2 166.3,321.3 161.4,328.8 158.4,335.1 154.4,340.8 152.5,351.0 150.7,360.3 149.1,369.0 148.8,377.9 151.9,385.1 156.9,393.8 165.3,401.6 174.0,408.2 179.2,412.4 186.4,416.0 195.7,420.1 206.8,425.4 215.3,429.7 223.3,433.5 231.6,437.8 237.5,440.3 242.3,442.5 248.9,444.7 253.0,447.7 258.2,449.0 264.1,451.6 271.3,454.5 279.7,456.8 286.0,460.1 292.9,461.9 300.6,465.1 308.5,468.0 316.7,470.7 325.2,473.9 333.2,476.8 341.6,479.9 349.5,482.1 357.0,484.6 366.2,487.2 373.7,489.9 381.8,492.0 390.4,493.9 397.7,496.5 406.0,498.7 413.1,500.6 420.5,501.9 427.0,504.2 433.3,506.4 439.9,508.9 446.5,510.5 455.2,512.9 466.0,516.6 472.1,518.1 479.4,520.3 485.9,522.1 494.3,524.6 502.5,526.8 511.9,529.1 520.5,531.3 529.9,533.6 538.6,536.8 546.5,539.0 554.9,541.7 562.6,544.0 569.2,545.8 575.7,547.7 580.9,549.3 593.5,554.1 596.8,555.4 606.9,559.3 612.5,560.4 619.0,563.1 626.5,564.6 634.7,566.9 643.8,569.3 652.7,572.0 661.4,574.1 669.9,576.6 678.5,579.1 685.8,580.6 692.5,582.4 697.9,584.3 711.8,587.6 718.0,589.3 721.6,590.3" stroke="#0013fb"/>
<polyline points="375.6,169.4 372.1,171.8 365.2,176.0 356.9,180.7 350.1,185.4 342.9,189.4 335.1,193.6 327.7,198.1 320.0,202.8 313.0,207.7 306.7,212.7 299.7,217.0 291.7,222.2 285.1,227.5 280.2,232.2 274.0,237.1 268.0,242.7 262.2,248.8 255.5,254.3 248.9,259.7 243.0,265.2 236.7,269.7 229.2,274.1 221.9,278.6 214.9,283.3 208.1,287.7 202.9,295.3 198.7,301.7 195.5,308.0 191.8,315.5 187.9,322.2 183.3,328.7 178.7,334.0 173.9,339.4 171.4,344.5 166.6,351.9 165.5,360.2 164.8,368.4 166.1,377.0 166.8,384.8 167.1,392.5 170.5,400.9 174.7,408.1 181.9,412.2 190.3,415.7 200.2,419.1 205.4,426.3 208.9,431.3 214.5,436.5 219.2,441.4 223.7,446.5 230.3,449.2 239.1,452.6 246.0,455.1 252.2,457.8 261.0,460.4 269.7,462.5 280.0,466.2 286.6,468.1 293.2,470.3 301.3,473.2 309.0,475.4 317.3,477.6 325.0,480.3 333.6,483.1 341.7,485.4 349.0,487.8 357.5,489.9 365.3,491.9 373.7,493.6 381.8,496.2 390.1,497.9 398.2,499.8 405.8,501.8 412.9,503.9 420.5,507.5 427.0,509.4 433.8,511.2 439.1,515.1 446.5,517.9 455.1,521.1 466.1,525.4 472.5,526.7 479.2,529.1 486.7,532.0 494.3,534.5 503.3,536.4 512.0,538.7 520.7,541.2 529.8,544.5 538.2,546.1 547.3,547.9 555.3,550.1 562.0,551.8 569.1,553.6 576.1,554.3 581.2,555.6 594.2,558.3 596.9,557.5 607.4,559.4 612.9,561.4 618.6,562.6 626.4,564.5 635.2,566.6 643.7,569.1 652.6,571.0 661.7,573.8 670.0,575.9 678.2,578.8 686.1,580.4 693.0,582.1 698.1,584.1 711.9,587.7 718.2,589.2 721.6,590.3" stroke="#000df6"/>
<polyline points="445.1,125.5 443.6,126.9 436.1,131.8 429.1,136.4 422.7,141.3 415.7,147.0 408.1,152.0 399.5,156.1 394.4,159.7 386.8,163.4 380.0,167.0 372.2,170.6 364.7,174.0 357.3,177.9 349.7,181.5 342.6,184.6 334.9,187.8 327.8,191.1 320.1,196.5 313.1,201.8 305.9,206.7 299.5,212.0 292.1,219.2 286.4,224.3 279.8,230.6 273.3,235.9 267.8,241.6 261.8,248.9 255.6,253.9 248.9,257.8 242.5,262.0 236.0,264.9 227.4,268.9 218.9,272.8 209.8,276.7 201.6,281.3 194.0,288.6 187.9,295.3 182.3,301.1 177.0,308.4 172.2,315.2 168.3,322.6 165.0,330.0 162.6,335.9 160.1,342.2 158.1,351.8 156.7,360.4 154.6,368.9 156.0,377.4 155.7,385.5 156.8,393.4 160.3,401.8 164.1,408.9 172.6,413.5 182.1,417.2 194.6,420.7 205.5,425.9 213.1,430.1 220.7,434.8 227.7,438.6 233.2,442.7 238.8,444.8 246.0,447.5 251.7,448.8 256.5,451.0 263.2,453.3 270.8,456.4 280.1,459.8 286.0,462.0 292.8,465.1 300.4,467.9 308.7,471.0 316.9,474.1 325.4,477.7 333.3,481.0 341.8,483.3 348.9,486.2 357.2,489.3 366.1,491.9 373.8,494.7 382.2,496.8 389.6,500.0 398.2,501.6 405.4,503.7 412.6,505.2 420.8,508.1 426.9,510.1 433.3,512.6 439.8,514.1 446.7,516.7 455.3,519.6 466.6,522.2 472.3,524.2 479.3,526.1 487.2,527.9 494.3,529.5 503.0,531.8 512.2,534.0 520.2,536.5 529.4,538.3 538.9,541.0 547.3,543.3 554.8,545.1 562.3,547.1 569.8,548.7 576.0,550.5 580.8,552.0 593.9,554.8 596.7,555.9 607.3,558.6 612.2,560.0 618.6,561.6 627.1,563.9 635.0,566.1 643.7,568.4 652.7,570.7 661.9,572.9 670.0,575.1 678.5,577.8 685.9,579.6 692.6,581.6 697.7,582.7 712.1,586.9 718.9,588.5 723.0,589.7" stroke="#0006f2"/>
<polyline points="381.2,167.1 379.7,168.6 372.1,173.7 365.1,178.3 357.1,183.2 350.1,187.4 342.8,191.6 335.2,196.1 327.6,199.9 320.2,204.5 313.3,209.3 305.9,214.6 299.8,219.1 292.8,224.4 286.4,229.2 280.5,233.5 274.8,238.4 268.3,243.9 262.1,250.2 256.1,256.4 249.2,262.4 242.5,267.1 236.3,271.3 230.0,276.0 222.9,280.8 215.4,284.3 208.7,288.9 202.5,296.3 198.4,302.1 192.8,306.4 189.0,313.9 184.7,320.2 178.1,326.9 171.5,331.5 165.8,337.0 161.3,342.1 156.6,351.3 159.2,359.9 162.0,368.1 167.0,376.8 169.4,384.9 171.5,392.6 176.0,400.5 179.7,407.5 182.6,412.1 185.2,416.1 191.7,421.6 204.0,426.6 213.8,429.7 224.1,434.3 233.7,437.0 240.0,439.4 244.1,440.8 250.6,443.0 254.9,445.2 259.8,446.9 265.0,448.4 271.8,451.8 279.8,454.6 286.0,456.9 293.3,460.1 300.8,462.4 307.8,465.9 316.4,468.6 324.9,471.9 332.8,475.1 341.8,477.8 349.7,480.6 357.4,483.2 365.4,486.3 373.0,488.5 382.3,490.8 389.9,493.4 397.8,495.9 405.2,497.6 413.2,500.3 420.1,502.0 426.8,504.3 433.7,506.3 439.7,507.9 446.3,510.5 455.3,512.5 465.8,516.9 471.9,517.9 478.7,520.0 486.4,522.3 495.3,524.0 502.4,527.5 511.7,529.1 520.9,531.7 529.9,534.8 538.7,536.5 547.0,539.1 555.5,541.1 562.7,543.7 569.4,545.1 575.3,546.6 581.2,547.8 593.6,551.0 596.8,552.3 607.3,555.3 612.5,556.3 619.1,558.0 626.6,560.9 635.3,563.3 643.8,565.6 652.4,568.5 661.5,571.2 670.3,573.6 678.2,576.1 686.0,578.3 692.5,580.2 698.3,582.2 712.2,586.3 718.9,588.6 722.8,589.8" stroke="#0000ed"/>
<polyline points="415.3,143.9 408.0,147.8 399.8,153.0 393.5,157.4 386.6,162.1 379.2,166.7 372.0,171.5 364.6,175.9 357.5,180.8 350.0,184.9 342.7,190.4 335.1,194.9 327.4,199.1 319.4,203.3 313.2,206.9 306.3,210.8 300.4,214.1 292.0,218.8 285.6,222.8 279.2,226.5 272.5,231.1 267.0,234.9 259.8,239.6 254.2,246.0 248.3,252.5 241.7,258.8 236.2,265.9 229.1,274.0 222.3,281.8 217.9,287.9 213.4,292.9 205.6,297.6 199.0,301.9 192.7,306.3 186.3,312.8 179.3,318.7 174.8,325.1 170.3,331.3 166.4,337.3 162.7,343.0 159.6,351.2 159.4,359.2 159.4,368.5 161.0,377.0 163.7,385.0 168.1,392.5 175.6,400.5 183.4,407.3 190.7,411.0 198.1,414.2 207.0,418.3 217.5,421.6 226.2,426.2 234.3,430.7 242.1,434.2 245.2,436.9 248.4,438.4 253.2,441.4 256.5,443.2 260.6,446.3 264.9,448.9 271.7,451.7 279.9,455.9 285.7,458.1 292.6,461.2 300.2,464.1 308.7,466.8 315.9,469.9 325.1,472.8 333.5,475.5 341.4,478.6 349.3,481.7 357.6,484.8 366.3,486.9 373.5,489.1 382.1,491.6 390.0,493.8 398.0,496.7 405.9,498.7 412.8,500.5 421.1,502.9 427.2,504.2 433.0,505.1 439.4,507.6 446.5,509.3 455.0,511.9 466.0,513.6 472.3,515.5 479.7,517.2 486.2,519.3 494.3,521.6 503.1,523.3 511.7,525.8 520.8,527.9 529.6,530.9 538.4,533.0 547.0,534.8 555.3,537.7 562.8,539.7 569.5,541.2 576.2,542.5 580.5,544.6 594.0,547.9 597.1,548.7 607.3,551.2 612.7,553.6 619.2,555.4 627.0,557.9 635.2,560.7 643.1,563.4 652.5,566.3 661.3,568.9 669.9,572.3 678.2,574.9 685.9,577.2 692.3,579.0 698.0,580.8 712.3,585.8 719.2,588.3 723.3,589.7" stroke="#0000dd"/>
<polyline points="452.0,130.0 407.3,150.2 399.7,155.1 393.8,158.8 386.6,163.5 379.3,168.9 372.2,172.7 365.2,177.6 357.1,183.5 349.6,187.6 342.6,191.8 335.6,197.1 327.5,201.5 320.4,206.2 312.7,208.8 306.0,213.0 300.0,216.3 292.3,220.3 285.5,224.9 279.1,227.8 273.3,232.8 267.0,236.9 260.5,241.6 254.8,248.0 248.3,254.3 242.0,261.1 236.2,266.1 228.9,273.7 222.8,280.3 216.5,286.6 210.9,292.0 204.6,296.9 198.4,301.7 191.8,305.9 185.1,312.6 178.9,318.6 175.5,325.6 172.3,331.9 170.1,338.4 168.9,344.3 165.9,351.7 159.9,360.3 156.7,369.0 154.2,377.1 154.9,385.1 157.9,393.5 163.2,402.3 170.0,407.6 177.5,412.4 185.8,416.3 197.2,419.9 207.6,425.2 215.8,429.0 223.4,433.6 231.6,437.7 237.1,440.3 241.8,442.9 248.1,445.1 253.1,447.2 258.2,449.3 264.1,451.4 271.1,454.5 279.8,457.9 286.3,460.9 292.8,463.3 300.2,466.4 308.1,470.2 316.8,473.2 325.5,476.2 333.7,479.7 340.9,482.9 349.5,485.5 357.2,488.3 365.5,490.5 373.4,493.5 382.3,496.7 390.2,498.5 398.1,501.3 405.5,504.0 413.3,505.9 420.1,508.3 426.9,510.2 433.6,512.7 439.5,515.0 446.4,517.5 455.0,520.5 465.9,524.2 472.4,525.2 478.5,527.2 487.1,529.3 494.0,531.3 503.0,533.3 511.8,535.8 520.5,538.6 529.8,540.3 537.9,543.0 546.7,545.0 555.7,547.0 562.9,549.1 569.4,550.8 575.5,552.4 581.3,553.8 594.1,557.0 596.8,557.5 606.4,560.6 612.8,562.6 619.4,564.0 626.9,565.6 635.0,567.5 643.6,570.2 652.3,571.8 661.7,573.8 670.5,576.5 678.4,578.4 686.1,580.5 692.5,582.0 697.7,583.6 711.9,587.0 718.5,588.9 722.6,589.9" stroke="#0000cc"/>
<polyline points="440.0,128.0 392.8,160.7 386.6,165.2 378.9,169.6 372.4,175.1 365.4,180.9 357.6,186.2 350.0,190.5 342.6,196.3 335.5,201.3 327.7,206.3 320.1,209.7 313.2,214.0 305.5,217.3 300.2,220.6 293.0,225.4 286.4,228.4 279.8,232.7 273.8,236.5 268.0,241.1 261.6,246.1 255.0,253.2 249.3,260.2 242.7,267.4 237.0,274.8 230.9,281.3 226.4,287.6 221.6,293.3 217.5,297.8 210.4,301.8 205.0,305.9 198.5,309.8 192.3,315.1 185.8,321.1 181.2,327.7 177.2,333.9 174.2,338.9 171.4,344.1 167.2,351.9 163.3,360.5 160.8,368.3 159.5,376.4 161.6,385.3 165.2,392.8 172.6,400.6 181.4,407.3 189.9,411.0 199.1,413.5 209.7,417.5 216.9,422.8 223.1,427.4 229.5,431.7 235.4,436.5 239.5,439.8 242.4,442.5 248.3,445.5 252.5,447.5 257.1,450.2 263.6,452.8 270.9,455.9 280.3,459.4 286.1,461.9 292.8,464.6 301.2,467.0 308.1,469.9 316.4,472.9 325.0,475.4 333.6,478.2 341.6,481.1 349.5,483.3 357.4,485.7 365.7,488.1 373.6,490.3 382.0,492.8 390.3,495.0 398.0,497.0 405.6,499.2 413.5,501.6 420.3,503.7 427.1,506.9 432.8,508.7 439.8,510.5 446.3,513.2 455.4,516.0 465.8,520.1 472.0,522.2 478.9,524.5 486.7,526.2 494.3,528.6 503.0,531.3 511.7,534.2 520.4,535.9 529.3,539.3 538.6,541.2 546.8,543.3 555.2,545.9 562.4,547.3 569.6,549.4 575.8,551.3 581.0,552.2 593.9,556.1 596.8,556.4 607.0,559.4 612.2,560.6 619.4,562.2 626.7,564.2 634.9,566.9 644.1,568.5 652.8,571.8 661.7,574.0 670.2,576.1 678.4,578.5 686.0,580.5 692.5,582.2 697.8,583.7 711.8,587.6 718.4,589.2 721.9,590.2" stroke="#0000bb"/>
<polyline points="477.0,111.0 397.4,148.4 393.7,150.2 387.0,153.9 379.5,158.2 372.4,162.9 364.6,166.6 357.6,171.3 350.2,175.7 342.7,179.8 335.3,183.6 328.0,188.4 320.9,193.2 313.0,197.2 306.1,200.6 300.4,205.5 291.6,210.7 285.0,215.7 278.3,221.1 272.5,225.6 266.0,231.3 259.0,235.5 252.9,239.6 246.8,244.6 240.0,248.5 234.4,253.3 225.9,259.7 216.3,266.9 208.3,274.5 200.4,280.9 192.3,287.3 185.3,293.5 179.7,300.0 173.3,305.9 167.4,312.8 161.9,320.1 156.6,326.1 153.4,333.2 151.7,340.4 152.0,350.5 148.1,359.9 146.3,368.7 143.3,377.6 146.3,385.8 150.7,394.5 158.4,401.7 165.6,408.8 170.1,413.9 176.4,418.2 185.2,422.7 195.1,429.0 202.8,432.8 211.1,437.7 218.5,441.9 224.8,445.4 231.3,448.9 239.1,452.5 245.7,455.1 252.7,457.5 260.3,460.1 269.8,462.6 279.7,466.5 286.0,468.5 294.0,471.1 301.4,474.0 309.5,477.6 317.0,480.3 325.5,483.0 333.5,486.0 341.3,488.7 349.0,491.4 357.4,493.8 365.4,496.1 373.5,498.6 381.9,500.7 389.9,503.3 397.6,504.4 405.5,507.1 412.9,509.3 420.2,511.8 426.9,513.9 432.6,516.4 439.3,519.1 446.8,522.1 454.8,524.6 466.2,527.9 472.0,528.7 479.0,530.7 486.3,533.2 494.6,535.1 502.8,536.9 512.1,539.6 521.2,542.1 529.8,543.7 538.6,546.5 546.8,548.3 555.3,550.5 562.3,552.7 569.6,553.9 575.6,555.0 580.8,557.3 594.0,560.3 596.8,560.7 607.2,563.7 612.7,565.7 619.1,566.7 626.7,568.0 634.6,570.1 643.7,572.7 652.8,574.4 661.7,576.5 670.2,578.5 678.4,580.2 686.0,582.2 692.3,583.7 698.1,585.2 711.6,588.3 717.9,589.5 721.6,590.3" stroke="#0000ab"/>
<polyline points="470.0,118.0 407.7,147.7 400.0,153.3 393.5,157.9 386.8,162.3 379.6,167.3 372.2,173.2 364.7,178.3 357.6,183.5 350.6,188.0 342.8,193.6 335.2,198.6 327.9,204.0 320.2,208.1 313.8,212.7 306.4,217.2 299.6,221.7 292.6,225.4 286.0,230.2 280.8,234.6 274.6,238.5 269.0,244.3 261.9,251.0 255.6,257.0 248.9,262.5 243.9,268.7 237.2,273.7 230.4,278.5 223.3,283.1 217.6,287.2 210.8,291.3 203.8,296.7 197.7,301.4 192.0,305.4 186.1,312.7 180.2,319.1 174.7,325.5 170.4,331.1 166.4,337.3 162.3,342.5 159.2,351.5 159.3,359.7 159.2,368.5 160.7,376.5 161.5,385.4 164.0,392.6 168.0,401.3 173.3,408.1 184.1,411.9 195.2,414.5 208.8,417.3 218.0,422.2 224.4,426.0 231.8,431.3 237.2,435.9 241.1,439.0 244.4,440.4 250.3,443.3 254.7,445.2 258.6,447.5 264.1,450.1 271.5,453.1 279.8,456.1 285.8,459.1 293.3,461.6 300.1,464.3 307.8,467.6 316.5,471.0 325.4,473.7 333.1,476.7 340.9,479.6 349.2,482.0 357.8,484.6 366.1,487.5 374.1,490.1 381.8,492.1 390.1,495.3 397.8,496.9 405.3,498.8 413.0,501.5 420.2,504.1 427.6,506.8 433.0,509.3 439.1,511.0 446.8,514.7 454.8,517.1 466.6,520.1 472.0,522.7 479.4,525.1 486.9,527.3 494.2,529.8 503.0,532.0 511.5,534.8 521.0,537.5 529.7,539.9 538.2,541.9 547.1,544.5 555.1,547.4 562.5,549.1 569.4,550.6 575.9,552.3 580.7,554.2 593.7,558.5 596.8,559.1 607.0,561.5 612.4,563.5 619.4,565.1 626.9,567.1 634.9,568.7 643.6,570.9 652.8,573.4 662.1,574.8 670.1,577.3 678.4,579.7 686.2,581.4 692.2,582.9 698.0,584.0 711.8,587.4 718.4,589.1 722.3,590.0" stroke="#00009a"/>
<polyline points="477.0,107.0 415.2,140.9 408.5,143.8 399.6,148.5 393.7,153.2 386.7,157.8 379.3,162.7 372.3,168.2 365.0,172.6 357.6,177.9 350.5,182.9 342.6,187.5 335.4,192.9 327.8,197.7 319.8,201.1 312.7,204.6 306.7,207.1 299.9,210.6 292.4,214.7 285.2,218.5 278.6,221.7 272.4,225.9 266.0,230.3 259.5,235.5 252.9,239.9 246.6,243.8 240.5,249.0 234.1,254.8 226.2,263.2 218.3,270.9 211.1,278.1 204.7,285.4 197.4,291.6 192.2,297.8 186.3,303.7 181.8,310.3 176.2,316.6 172.2,324.5 169.4,330.7 166.5,337.4 165.2,343.3 161.9,352.3 155.4,360.2 150.3,368.5 146.5,377.8 147.9,386.4 152.1,393.6 159.6,401.1 167.5,408.4 172.3,413.2 176.8,417.6 184.8,422.9 196.8,428.2 205.5,431.8 214.2,436.6 223.3,440.4 229.9,443.7 235.0,446.6 242.5,450.3 248.3,452.6 254.5,454.9 261.7,458.5 270.2,460.6 280.4,464.3 286.2,466.7 293.3,469.7 300.8,471.5 309.0,474.9 317.0,477.6 325.1,480.9 333.4,483.5 341.3,486.5 349.8,488.3 357.1,491.5 366.0,494.0 373.8,495.9 382.3,498.0 389.9,500.1 397.8,502.2 405.2,504.0 412.8,507.1 420.9,509.6 426.8,511.9 433.1,515.1 439.2,517.0 447.1,520.4 455.8,523.7 466.3,526.7 471.8,528.9 479.0,531.1 486.5,532.9 494.4,535.4 502.4,537.3 512.0,540.4 521.1,542.3 529.7,545.1 538.3,546.9 547.2,549.3 555.0,551.7 562.8,553.8 569.5,555.0 576.2,556.7 580.8,557.3 594.0,561.1 596.5,561.9 607.1,564.2 612.9,565.3 619.1,567.3 626.8,568.7 635.1,570.3 643.6,573.0 652.5,574.8 661.4,577.0 670.4,578.9 678.3,581.0 685.9,582.5 692.6,584.1 698.1,585.1 711.8,588.2 717.8,589.5 721.5,590.3" stroke="#000088"/>
<polyline points="462.0,118.0 376.4,167.7 372.1,171.0 364.6,175.2 357.6,179.3 350.0,184.0 342.6,188.2 335.1,193.1 326.6,197.4 320.1,201.3 313.2,204.9 305.9,209.3 299.5,212.6 292.0,217.6 285.3,221.3 279.4,225.8 273.3,230.5 266.8,234.9 260.4,240.3 254.0,246.0 247.7,252.1 241.5,258.7 236.0,265.0 228.4,272.6 222.2,280.0 216.5,286.6 211.6,291.9 202.5,296.0 193.9,299.6 185.7,303.4 177.3,308.1 168.5,314.0 164.1,320.8 160.0,327.6 156.6,334.1 153.5,341.1 151.4,350.5 151.6,360.4 152.5,369.3 153.5,376.9 156.4,385.8 161.3,392.7 169.2,401.5 177.5,407.8 185.3,411.8 193.9,414.6 204.3,418.7 213.8,422.9 220.5,428.3 227.9,432.6 235.2,436.7 238.9,439.3 243.4,441.3 249.2,444.2 253.7,446.7 258.2,448.4 264.3,451.1 271.5,453.5 280.1,457.0 286.4,459.1 293.0,462.1 300.5,465.0 308.5,468.1 316.6,471.6 324.8,474.7 333.6,477.1 341.1,480.5 349.0,483.3 357.4,485.9 365.9,489.1 373.9,491.7 381.6,494.1 389.8,497.2 397.3,498.9 405.2,501.5 412.4,503.6 420.4,505.9 427.0,508.7 433.2,511.0 439.4,513.1 446.8,516.3 455.4,519.3 466.3,523.1 472.0,524.5 479.3,525.9 486.3,528.7 494.9,530.9 502.8,533.0 511.8,535.8 521.0,538.1 529.7,540.2 538.3,542.8 546.9,545.4 555.2,547.2 562.9,549.1 570.0,551.2 575.6,553.2 580.9,554.4 593.9,558.3 597.0,559.9 607.3,562.5 612.6,563.8 619.5,565.6 626.9,566.9 635.2,569.2 644.3,571.1 652.3,573.3 661.4,575.7 670.2,577.8 678.2,579.5 685.8,581.6 692.6,582.7 698.0,584.2 711.7,587.6 718.4,589.2 722.3,590.0" stroke="#000077"/>
<polyline points="502.0,88.0 383.7,160.3 379.4,162.3 372.4,167.0 364.4,172.5 357.1,176.3 349.8,180.8 342.9,185.4 334.9,190.5 327.9,194.3 320.4,198.7 313.1,202.5 306.0,205.5 299.9,209.6 292.3,214.2 285.3,217.9 278.7,222.8 272.2,227.1 266.0,231.4 259.6,236.0 253.5,239.8 246.8,244.6 240.8,249.3 234.0,253.8 225.7,260.7 216.9,268.1 208.6,275.1 201.7,281.4 193.4,288.1 186.8,294.3 180.7,300.3 174.1,306.9 169.1,313.7 166.2,320.9 162.2,328.8 160.3,335.5 158.0,341.6 156.8,351.3 155.3,359.9 153.0,368.5 152.6,376.9 154.0,385.2 155.7,393.5 160.1,401.1 166.0,409.2 173.9,413.5 183.3,416.9 193.8,421.1 205.9,425.5 214.6,430.0 223.4,433.8 231.4,437.6 237.8,440.0 241.1,443.2 247.0,446.4 251.3,448.6 256.9,451.3 263.2,454.1 270.1,457.4 280.4,460.3 286.3,463.3 293.3,465.9 300.8,469.0 308.3,471.1 317.3,475.6 325.0,478.0 333.0,481.7 341.5,483.7 349.3,486.4 357.2,490.2 365.5,492.0 374.3,493.8 382.3,495.8 390.2,498.4 398.1,500.8 405.2,503.2 412.7,506.1 420.6,507.8 427.5,511.2 433.5,513.2 439.6,515.5 446.8,518.3 454.8,521.2 466.0,525.0 472.2,526.8 478.8,528.5 486.4,530.8 494.9,533.4 503.0,535.8 512.2,537.6 520.8,540.0 529.9,542.5 538.6,544.8 546.7,547.5 554.4,549.5 563.4,551.4 569.5,553.7 575.5,555.5 580.9,556.6 593.4,560.3 596.5,561.0 607.1,563.6 612.7,565.3 619.5,566.6 626.8,568.7 635.2,570.7 643.9,573.1 652.7,574.6 661.9,576.7 670.5,578.5 678.5,580.6 686.1,582.2 692.5,583.8 697.9,585.0 711.7,588.3 717.9,589.5 721.5,590.3" stroke="#000066"/>
<polyline points="345.0,181.0 298.0,197.0 303.0,207.0" stroke="#000077"/>
<polyline points="262.0,262.0 300.0,236.0 346.0,212.0 356.0,204.0 372.0,192.0" stroke="#ffa100"/>
<polyline points="330.0,212.0 357.0,198.0 421.0,166.0 457.0,143.0" stroke="#0006f2"/>
<polyline points="340.0,485.0 360.0,492.0 389.5,505.7 430.0,516.0 480.0,530.0" stroke="#000088"/>
<polyline points="172.0,318.0 160.0,333.0 150.0,347.0 141.0,356.0 139.0,371.0 135.0,388.0 140.0,400.0 146.0,410.0 156.0,418.0 175.0,428.0 200.0,440.0 233.0,452.0 270.0,463.0" stroke="#8b0000"/>
<polyline points="168.0,322.0 155.0,340.0 146.0,360.0 139.0,375.0 137.0,386.0 150.0,392.0 163.0,400.0 172.0,412.0 190.0,424.0 215.0,436.0 250.0,446.0" stroke="#f50500"/>
<polyline points="150.0,380.0 152.0,396.0 160.0,408.0 178.0,420.0 205.0,436.0 240.0,447.0" stroke="#d10000"/>
</g>
<path d="M233.5 666.5v-6M233.5 55.5v6M349.5 666.5v-6M349.5 55.5v6M465.5 666.5v-6M465.5 55.5v6M581.5 666.5v-6M581.5 55.5v6M697.5 666.5v-6M697.5 55.5v6M116.5 580.5h7M813.5 580.5h-7M116.5 493.5h7M813.5 493.5h-7M116.5 405.5h7M813.5 405.5h-7M116.5 318.5h7M813.5 318.5h-7M116.5 230.5h7M813.5 230.5h-7M116.5 143.5h7M813.5 143.5h-7" stroke="#262626" stroke-width="1" fill="none"/>
<rect x="116.5" y="55.5" width="697" height="611" fill="none" stroke="#262626" stroke-width="1"/>
<rect x="854.5" y="126.5" width="110" height="470" fill="#fff" stroke="#262626" stroke-width="1"/>
<line x1="854.5" y1="155.5" x2="964.5" y2="155.5" stroke="#262626" stroke-width="1"/>
<g stroke-width="1.2">
<line x1="860" y1="170.5" x2="923" y2="170.5" stroke="#660000"/>
<line x1="860" y1="194.5" x2="923" y2="194.5" stroke="#b00000"/>
<line x1="860" y1="218.5" x2="923" y2="218.5" stroke="#f20000"/>
<line x1="860" y1="243.5" x2="923" y2="243.5" stroke="#ff1400"/>
<line x1="860" y1="267.5" x2="923" y2="267.5" stroke="#ff4000"/>
<line x1="860" y1="291.5" x2="923" y2="291.5" stroke="#ff8c00"/>
<line x1="860" y1="315.5" x2="923" y2="315.5" stroke="#ffe000"/>
<line x1="860" y1="340.5" x2="923" y2="340.5" stroke="#b8ff1a"/>
<line x1="860" y1="364.5" x2="923" y2="364.5" stroke="#59ff29"/>
<line x1="860" y1="388.5" x2="923" y2="388.5" stroke="#33ff80"/>
<line x1="860" y1="412.5" x2="923" y2="412.5" stroke="#1affc7"/>
<line x1="860" y1="437.5" x2="923" y2="437.5" stroke="#00e0ff"/>
<line x1="860" y1="461.5" x2="923" y2="461.5" stroke="#008cff"/>
<line x1="860" y1="485.5" x2="923" y2="485.5" stroke="#0040ff"/>
<line x1="860" y1="509.5" x2="923" y2="509.5" stroke="#001aff"/>
<line x1="860" y1="533.5" x2="923" y2="533.5" stroke="#0000ed"/>
<line x1="860" y1="558.5" x2="923" y2="558.5" stroke="#0000ab"/>
<line x1="860" y1="582.5" x2="923" y2="582.5" stroke="#000066"/>
</g>
</svg>
<div class="t" style="left:133.01px;top:28.00px;font-size:23.70px;transform:scale(1.1729,1.0000);font-weight:bold;color:#000">Argo WMO 2902380: <span style="font-family:'Liberation Serif',serif;font-style:italic;font-weight:normal">&#952;</span>-S below 500 dbar,&nbsp; QC=(1,2)</div>
<div class="t" style="left:41.00px;top:657.00px;width:67.00px;text-align:right;font-size:22.50px;color:#262626;transform:scale(1.0139,1.0000);transform-origin:100% 0">0</div>
<div class="t" style="left:41.00px;top:571.00px;width:67.00px;text-align:right;font-size:22.50px;color:#262626;transform:scale(1.0139,1.0000);transform-origin:100% 0">2</div>
<div class="t" style="left:41.00px;top:484.00px;width:67.00px;text-align:right;font-size:22.50px;color:#262626;transform:scale(1.0139,1.0000);transform-origin:100% 0">4</div>
<div class="t" style="left:41.00px;top:396.00px;width:67.00px;text-align:right;font-size:22.50px;color:#262626;transform:scale(1.0139,1.0000);transform-origin:100% 0">6</div>
<div class="t" style="left:41.00px;top:309.00px;width:67.00px;text-align:right;font-size:22.50px;color:#262626;transform:scale(1.0139,1.0000);transform-origin:100% 0">8</div>
<div class="t" style="left:41.00px;top:221.00px;width:67.00px;text-align:right;font-size:22.50px;color:#262626;transform:scale(1.0139,1.0000);transform-origin:100% 0">10</div>
<div class="t" style="left:41.00px;top:134.00px;width:67.00px;text-align:right;font-size:22.50px;color:#262626;transform:scale(1.0139,1.0000);transform-origin:100% 0">12</div>
<div class="t" style="left:41.00px;top:46.00px;width:67.00px;text-align:right;font-size:22.50px;color:#262626;transform:scale(1.0139,1.0000);transform-origin:100% 0">14</div>
<div class="t" style="left:66.20px;top:678.00px;width:100px;text-align:center;font-size:22.50px;color:#262626;transform:scale(1.0283,1.0000);transform-origin:50% 0">34.1</div>
<div class="t" style="left:183.20px;top:678.00px;width:100px;text-align:center;font-size:22.50px;color:#262626;transform:scale(1.0283,1.0000);transform-origin:50% 0">34.2</div>
<div class="t" style="left:299.20px;top:678.00px;width:100px;text-align:center;font-size:22.50px;color:#262626;transform:scale(1.0283,1.0000);transform-origin:50% 0">34.3</div>
<div class="t" style="left:415.20px;top:678.00px;width:100px;text-align:center;font-size:22.50px;color:#262626;transform:scale(1.0283,1.0000);transform-origin:50% 0">34.4</div>
<div class="t" style="left:531.20px;top:678.00px;width:100px;text-align:center;font-size:22.50px;color:#262626;transform:scale(1.0283,1.0000);transform-origin:50% 0">34.5</div>
<div class="t" style="left:647.20px;top:678.00px;width:100px;text-align:center;font-size:22.50px;color:#262626;transform:scale(1.0283,1.0000);transform-origin:50% 0">34.6</div>
<div class="t" style="left:763.20px;top:678.00px;width:100px;text-align:center;font-size:22.50px;color:#262626;transform:scale(1.0283,1.0000);transform-origin:50% 0">34.7</div>
<div class="t" style="left:423.13px;top:705.00px;font-size:25.00px;transform:scale(1.0538,1.0000);color:#262626">Salinity</div>
<div class="t" style="left:50.00px;top:517.00px;font-size:24.00px;color:#262626;transform:rotate(-90deg) scale(1.0850,1.0000)">Potential Temperature (<span style="display:inline-block;position:relative;top:-19.00px;width:5.50px;height:5.50px;border:1.2px solid #262626;border-radius:50%;margin:0 4.00px 0 0.50px;box-sizing:border-box"></span>C)</div>
<div class="t" style="left:870.04px;top:133.00px;font-size:19.50px;transform:scale(1.1352,1.0000);font-weight:bold;color:#000">Cycle #</div>
<div class="t" style="left:916.00px;top:161.00px;width:60px;text-align:center;font-size:19.00px;color:#000;transform:scale(1.1500,1.0000);transform-origin:50% 0">1</div>
<div class="t" style="left:916.00px;top:185.24px;width:60px;text-align:center;font-size:19.00px;color:#000;transform:scale(1.1500,1.0000);transform-origin:50% 0">5</div>
<div class="t" style="left:916.00px;top:209.47px;width:60px;text-align:center;font-size:19.00px;color:#000;transform:scale(1.1500,1.0000);transform-origin:50% 0">9</div>
<div class="t" style="left:916.00px;top:233.70px;width:60px;text-align:center;font-size:19.00px;color:#000;transform:scale(1.1500,1.0000);transform-origin:50% 0">13</div>
<div class="t" style="left:916.00px;top:257.94px;width:60px;text-align:center;font-size:19.00px;color:#000;transform:scale(1.1500,1.0000);transform-origin:50% 0">17</div>
<div class="t" style="left:916.00px;top:282.18px;width:60px;text-align:center;font-size:19.00px;color:#000;transform:scale(1.1500,1.0000);transform-origin:50% 0">21</div>
<div class="t" style="left:916.00px;top:306.41px;width:60px;text-align:center;font-size:19.00px;color:#000;transform:scale(1.1500,1.0000);transform-origin:50% 0">25</div>
<div class="t" style="left:916.00px;top:330.64px;width:60px;text-align:center;font-size:19.00px;color:#000;transform:scale(1.1500,1.0000);transform-origin:50% 0">29</div>
<div class="t" style="left:916.00px;top:354.88px;width:60px;text-align:center;font-size:19.00px;color:#000;transform:scale(1.1500,1.0000);transform-origin:50% 0">33</div>
<div class="t" style="left:916.00px;top:379.12px;width:60px;text-align:center;font-size:19.00px;color:#000;transform:scale(1.1500,1.0000);transform-origin:50% 0">37</div>
<div class="t" style="left:916.00px;top:403.35px;width:60px;text-align:center;font-size:19.00px;color:#000;transform:scale(1.1500,1.0000);transform-origin:50% 0">41</div>
<div class="t" style="left:916.00px;top:427.58px;width:60px;text-align:center;font-size:19.00px;color:#000;transform:scale(1.1500,1.0000);transform-origin:50% 0">45</div>
<div class="t" style="left:916.00px;top:451.82px;width:60px;text-align:center;font-size:19.00px;color:#000;transform:scale(1.1500,1.0000);transform-origin:50% 0">49</div>
<div class="t" style="left:916.00px;top:476.06px;width:60px;text-align:center;font-size:19.00px;color:#000;transform:scale(1.1500,1.0000);transform-origin:50% 0">53</div>
<div class="t" style="left:916.00px;top:500.29px;width:60px;text-align:center;font-size:19.00px;color:#000;transform:scale(1.1500,1.0000);transform-origin:50% 0">57</div>
<div class="t" style="left:916.00px;top:524.52px;width:60px;text-align:center;font-size:19.00px;color:#000;transform:scale(1.1500,1.0000);transform-origin:50% 0">61</div>
<div class="t" style="left:916.00px;top:548.76px;width:60px;text-align:center;font-size:19.00px;color:#000;transform:scale(1.1500,1.0000);transform-origin:50% 0">65</div>
<div class="t" style="left:916.00px;top:573.00px;width:60px;text-align:center;font-size:19.00px;color:#000;transform:scale(1.1500,1.0000);transform-origin:50% 0">69</div>
<div class="t" style="left:105.00px;top:727.00px;font-size:16.50px;transform:scale(1.1126,1.0000);color:#000">Argo WHOI 21-Dec-2025</div>
<div class="t" style="left:577.00px;top:726.00px;font-size:16.50px;transform:scale(1.0946,1.0000);color:#000">JMA at jma</div>
</body></html>
